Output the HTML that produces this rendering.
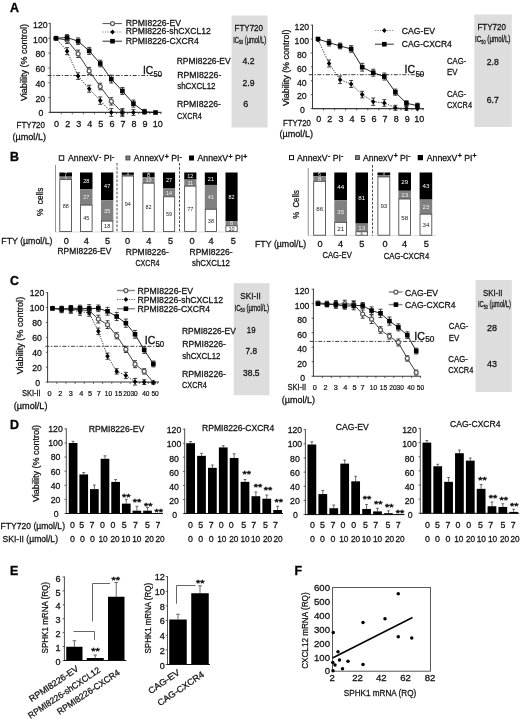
<!DOCTYPE html>
<html lang="en"><head><meta charset="utf-8"><title>Figure</title>
<style>
html,body{margin:0;padding:0;background:#fff;}
body{width:520px;height:720px;overflow:hidden;}
svg text{stroke:#111;stroke-width:0.03em;}
svg{display:block;filter:blur(0.4px);font-family:"Liberation Sans",sans-serif;}
</style></head><body>
<svg width="520" height="720" viewBox="0 0 520 720">
<rect width="520" height="720" fill="#fff"/>
<g fill="#111" class="t">
<text x="10" y="12" font-size="12.4" font-weight="700" fill="#000">A</text>
<text x="10" y="160.5" font-size="12.4" font-weight="700" fill="#000">B</text>
<text x="10" y="285.3" font-size="12.4" font-weight="700" fill="#000">C</text>
<text x="10" y="429.3" font-size="12.4" font-weight="700" fill="#000">D</text>
<text x="10" y="574.5" font-size="12.4" font-weight="700" fill="#000">E</text>
<text x="294.5" y="575" font-size="12.4" font-weight="700" fill="#000">F</text>
<rect x="231.5" y="15.5" width="36" height="112" fill="#dddddd"/>
<text x="234.5" y="30.65" font-size="8.8" textLength="28.5" lengthAdjust="spacingAndGlyphs">FTY720</text>
<text transform="translate(233.2 42.58) scale(0.68 1)" font-size="8.6">IC<tspan font-size="5.33" dy="1.3">50</tspan><tspan dy="-1.3"> (µmol/L)</tspan></text>
<line x1="47.7" y1="75.5" x2="161.5" y2="75.5" stroke="#1a1a1a" stroke-width="0.85" stroke-dasharray="4 1.6 1.3 1.6"/>
<line x1="50.2" y1="22.92" x2="50.2" y2="112.9" stroke="#3a3a3a" stroke-width="1"/>
<line x1="49.7" y1="112.4" x2="161.5" y2="112.4" stroke="#3a3a3a" stroke-width="1.1"/>
<line x1="48.4" y1="112.4" x2="50.2" y2="112.4" stroke="#3a3a3a" stroke-width="0.8"/>
<text x="40.9" y="116.31" font-size="8.7" text-anchor="middle">0</text>
<line x1="48.4" y1="97.57" x2="50.2" y2="97.57" stroke="#3a3a3a" stroke-width="0.8"/>
<text x="40.3" y="101.56" font-size="8.7" text-anchor="middle">20</text>
<line x1="48.4" y1="82.74" x2="50.2" y2="82.74" stroke="#3a3a3a" stroke-width="0.8"/>
<text x="40.3" y="86.81" font-size="8.7" text-anchor="middle">40</text>
<line x1="48.4" y1="67.91" x2="50.2" y2="67.91" stroke="#3a3a3a" stroke-width="0.8"/>
<text x="40.3" y="72.06" font-size="8.7" text-anchor="middle">60</text>
<line x1="48.4" y1="53.08" x2="50.2" y2="53.08" stroke="#3a3a3a" stroke-width="0.8"/>
<text x="40.3" y="57.31" font-size="8.7" text-anchor="middle">80</text>
<line x1="48.4" y1="38.25" x2="50.2" y2="38.25" stroke="#3a3a3a" stroke-width="0.8"/>
<text x="40.3" y="42.56" font-size="8.7" text-anchor="middle">100</text>
<line x1="48.4" y1="23.42" x2="50.2" y2="23.42" stroke="#3a3a3a" stroke-width="0.8"/>
<text x="40.3" y="27.81" font-size="8.7" text-anchor="middle">120</text>
<line x1="61.26" y1="112.4" x2="61.26" y2="114.2" stroke="#3a3a3a" stroke-width="0.8"/>
<line x1="72.32" y1="112.4" x2="72.32" y2="114.2" stroke="#3a3a3a" stroke-width="0.8"/>
<line x1="83.38" y1="112.4" x2="83.38" y2="114.2" stroke="#3a3a3a" stroke-width="0.8"/>
<line x1="94.44" y1="112.4" x2="94.44" y2="114.2" stroke="#3a3a3a" stroke-width="0.8"/>
<line x1="105.5" y1="112.4" x2="105.5" y2="114.2" stroke="#3a3a3a" stroke-width="0.8"/>
<line x1="116.56" y1="112.4" x2="116.56" y2="114.2" stroke="#3a3a3a" stroke-width="0.8"/>
<line x1="127.62" y1="112.4" x2="127.62" y2="114.2" stroke="#3a3a3a" stroke-width="0.8"/>
<line x1="138.68" y1="112.4" x2="138.68" y2="114.2" stroke="#3a3a3a" stroke-width="0.8"/>
<line x1="149.74" y1="112.4" x2="149.74" y2="114.2" stroke="#3a3a3a" stroke-width="0.8"/>
<line x1="160.8" y1="112.4" x2="160.8" y2="114.2" stroke="#3a3a3a" stroke-width="0.8"/>
<polyline points="56,38.25 67.06,40.11 78.12,53.84 89.18,70.92 100.24,86.51 111.3,101.36 122.36,112.5" fill="none" stroke="#2a2a2a" stroke-width="0.9" stroke-linejoin="round"/>
<polyline points="56,38.25 67.06,51.17 78.12,76.12 89.18,88.74 100.24,100.62 111.3,112.5 122.36,112.5 133.42,112.5" fill="none" stroke="#333" stroke-width="0.9" stroke-linejoin="round" stroke-dasharray="1.4 1.2"/>
<polyline points="56,38.25 67.06,37.51 78.12,41.22 89.18,50.87 100.24,63.5 111.3,79.09 122.36,90.97 133.42,103.59 144.48,111.76 155.54,112.5" fill="none" stroke="#1a1a1a" stroke-width="0.95" stroke-linejoin="round"/>
<line x1="67.06" y1="36.81" x2="67.06" y2="43.41" stroke="#111" stroke-width="0.8"/>
<line x1="65.06" y1="36.81" x2="69.06" y2="36.81" stroke="#111" stroke-width="0.8"/>
<line x1="65.06" y1="43.41" x2="69.06" y2="43.41" stroke="#111" stroke-width="0.8"/>
<line x1="78.12" y1="50.14" x2="78.12" y2="57.54" stroke="#111" stroke-width="0.8"/>
<line x1="76.12" y1="50.14" x2="80.12" y2="50.14" stroke="#111" stroke-width="0.8"/>
<line x1="76.12" y1="57.54" x2="80.12" y2="57.54" stroke="#111" stroke-width="0.8"/>
<line x1="89.18" y1="67.42" x2="89.18" y2="74.42" stroke="#111" stroke-width="0.8"/>
<line x1="87.18" y1="67.42" x2="91.18" y2="67.42" stroke="#111" stroke-width="0.8"/>
<line x1="87.18" y1="74.42" x2="91.18" y2="74.42" stroke="#111" stroke-width="0.8"/>
<line x1="100.24" y1="83.21" x2="100.24" y2="89.81" stroke="#111" stroke-width="0.8"/>
<line x1="98.24" y1="83.21" x2="102.24" y2="83.21" stroke="#111" stroke-width="0.8"/>
<line x1="98.24" y1="89.81" x2="102.24" y2="89.81" stroke="#111" stroke-width="0.8"/>
<line x1="111.3" y1="97.66" x2="111.3" y2="105.06" stroke="#111" stroke-width="0.8"/>
<line x1="109.3" y1="97.66" x2="113.3" y2="97.66" stroke="#111" stroke-width="0.8"/>
<line x1="109.3" y1="105.06" x2="113.3" y2="105.06" stroke="#111" stroke-width="0.8"/>
<line x1="122.36" y1="109" x2="122.36" y2="116" stroke="#111" stroke-width="0.8"/>
<line x1="120.36" y1="109" x2="124.36" y2="109" stroke="#111" stroke-width="0.8"/>
<line x1="120.36" y1="116" x2="124.36" y2="116" stroke="#111" stroke-width="0.8"/>
<circle cx="56" cy="38.25" r="2" fill="#fff" stroke="#5c5c5c" stroke-width="1.25"/>
<circle cx="67.06" cy="40.11" r="2" fill="#fff" stroke="#5c5c5c" stroke-width="1.25"/>
<circle cx="78.12" cy="53.84" r="2" fill="#fff" stroke="#5c5c5c" stroke-width="1.25"/>
<circle cx="89.18" cy="70.92" r="2" fill="#fff" stroke="#5c5c5c" stroke-width="1.25"/>
<circle cx="100.24" cy="86.51" r="2" fill="#fff" stroke="#5c5c5c" stroke-width="1.25"/>
<circle cx="111.3" cy="101.36" r="2" fill="#fff" stroke="#5c5c5c" stroke-width="1.25"/>
<circle cx="122.36" cy="112.5" r="2" fill="#fff" stroke="#5c5c5c" stroke-width="1.25"/>
<line x1="67.06" y1="47.67" x2="67.06" y2="54.67" stroke="#111" stroke-width="0.8"/>
<line x1="65.06" y1="47.67" x2="69.06" y2="47.67" stroke="#111" stroke-width="0.8"/>
<line x1="65.06" y1="54.67" x2="69.06" y2="54.67" stroke="#111" stroke-width="0.8"/>
<line x1="78.12" y1="72.82" x2="78.12" y2="79.42" stroke="#111" stroke-width="0.8"/>
<line x1="76.12" y1="72.82" x2="80.12" y2="72.82" stroke="#111" stroke-width="0.8"/>
<line x1="76.12" y1="79.42" x2="80.12" y2="79.42" stroke="#111" stroke-width="0.8"/>
<line x1="89.18" y1="85.24" x2="89.18" y2="92.24" stroke="#111" stroke-width="0.8"/>
<line x1="87.18" y1="85.24" x2="91.18" y2="85.24" stroke="#111" stroke-width="0.8"/>
<line x1="87.18" y1="92.24" x2="91.18" y2="92.24" stroke="#111" stroke-width="0.8"/>
<line x1="100.24" y1="96.92" x2="100.24" y2="104.32" stroke="#111" stroke-width="0.8"/>
<line x1="98.24" y1="96.92" x2="102.24" y2="96.92" stroke="#111" stroke-width="0.8"/>
<line x1="98.24" y1="104.32" x2="102.24" y2="104.32" stroke="#111" stroke-width="0.8"/>
<line x1="111.3" y1="108.6" x2="111.3" y2="116.4" stroke="#111" stroke-width="0.8"/>
<line x1="109.3" y1="108.6" x2="113.3" y2="108.6" stroke="#111" stroke-width="0.8"/>
<line x1="109.3" y1="116.4" x2="113.3" y2="116.4" stroke="#111" stroke-width="0.8"/>
<line x1="122.36" y1="108.8" x2="122.36" y2="116.2" stroke="#111" stroke-width="0.8"/>
<line x1="120.36" y1="108.8" x2="124.36" y2="108.8" stroke="#111" stroke-width="0.8"/>
<line x1="120.36" y1="116.2" x2="124.36" y2="116.2" stroke="#111" stroke-width="0.8"/>
<line x1="133.42" y1="109.6" x2="133.42" y2="115.4" stroke="#111" stroke-width="0.8"/>
<line x1="131.42" y1="109.6" x2="135.42" y2="109.6" stroke="#111" stroke-width="0.8"/>
<line x1="131.42" y1="115.4" x2="135.42" y2="115.4" stroke="#111" stroke-width="0.8"/>
<path d="M56 35.7L58.3 38.25L56 40.8L53.7 38.25z" fill="#000"/>
<path d="M67.06 48.62L69.36 51.17L67.06 53.72L64.77 51.17z" fill="#000"/>
<path d="M78.12 73.57L80.42 76.12L78.12 78.67L75.83 76.12z" fill="#000"/>
<path d="M89.18 86.19L91.48 88.74L89.18 91.29L86.89 88.74z" fill="#000"/>
<path d="M100.24 98.07L102.54 100.62L100.24 103.17L97.95 100.62z" fill="#000"/>
<path d="M111.3 109.95L113.6 112.5L111.3 115.05L109.01 112.5z" fill="#000"/>
<path d="M122.36 109.95L124.66 112.5L122.36 115.05L120.06 112.5z" fill="#000"/>
<path d="M133.42 109.95L135.72 112.5L133.42 115.05L131.13 112.5z" fill="#000"/>
<line x1="67.06" y1="34.61" x2="67.06" y2="40.41" stroke="#111" stroke-width="0.8"/>
<line x1="65.06" y1="34.61" x2="69.06" y2="34.61" stroke="#111" stroke-width="0.8"/>
<line x1="65.06" y1="40.41" x2="69.06" y2="40.41" stroke="#111" stroke-width="0.8"/>
<line x1="78.12" y1="37.92" x2="78.12" y2="44.52" stroke="#111" stroke-width="0.8"/>
<line x1="76.12" y1="37.92" x2="80.12" y2="37.92" stroke="#111" stroke-width="0.8"/>
<line x1="76.12" y1="44.52" x2="80.12" y2="44.52" stroke="#111" stroke-width="0.8"/>
<line x1="89.18" y1="47.37" x2="89.18" y2="54.37" stroke="#111" stroke-width="0.8"/>
<line x1="87.18" y1="47.37" x2="91.18" y2="47.37" stroke="#111" stroke-width="0.8"/>
<line x1="87.18" y1="54.37" x2="91.18" y2="54.37" stroke="#111" stroke-width="0.8"/>
<line x1="100.24" y1="60.2" x2="100.24" y2="66.8" stroke="#111" stroke-width="0.8"/>
<line x1="98.24" y1="60.2" x2="102.24" y2="60.2" stroke="#111" stroke-width="0.8"/>
<line x1="98.24" y1="66.8" x2="102.24" y2="66.8" stroke="#111" stroke-width="0.8"/>
<line x1="111.3" y1="75.19" x2="111.3" y2="82.99" stroke="#111" stroke-width="0.8"/>
<line x1="109.3" y1="75.19" x2="113.3" y2="75.19" stroke="#111" stroke-width="0.8"/>
<line x1="109.3" y1="82.99" x2="113.3" y2="82.99" stroke="#111" stroke-width="0.8"/>
<line x1="122.36" y1="87.47" x2="122.36" y2="94.47" stroke="#111" stroke-width="0.8"/>
<line x1="120.36" y1="87.47" x2="124.36" y2="87.47" stroke="#111" stroke-width="0.8"/>
<line x1="120.36" y1="94.47" x2="124.36" y2="94.47" stroke="#111" stroke-width="0.8"/>
<line x1="133.42" y1="100.09" x2="133.42" y2="107.09" stroke="#111" stroke-width="0.8"/>
<line x1="131.42" y1="100.09" x2="135.42" y2="100.09" stroke="#111" stroke-width="0.8"/>
<line x1="131.42" y1="107.09" x2="135.42" y2="107.09" stroke="#111" stroke-width="0.8"/>
<line x1="144.48" y1="109.36" x2="144.48" y2="114.16" stroke="#111" stroke-width="0.8"/>
<line x1="142.48" y1="109.36" x2="146.48" y2="109.36" stroke="#111" stroke-width="0.8"/>
<line x1="142.48" y1="114.16" x2="146.48" y2="114.16" stroke="#111" stroke-width="0.8"/>
<rect x="53.7" y="35.95" width="4.6" height="4.6" fill="#000"/>
<rect x="64.76" y="35.21" width="4.6" height="4.6" fill="#000"/>
<rect x="75.82" y="38.92" width="4.6" height="4.6" fill="#000"/>
<rect x="86.88" y="48.57" width="4.6" height="4.6" fill="#000"/>
<rect x="97.94" y="61.2" width="4.6" height="4.6" fill="#000"/>
<rect x="109" y="76.79" width="4.6" height="4.6" fill="#000"/>
<rect x="120.06" y="88.67" width="4.6" height="4.6" fill="#000"/>
<rect x="131.12" y="101.29" width="4.6" height="4.6" fill="#000"/>
<rect x="142.18" y="109.46" width="4.6" height="4.6" fill="#000"/>
<rect x="153.24" y="110.2" width="4.6" height="4.6" fill="#000"/>
<text x="56.6" y="126.52" font-size="9" text-anchor="middle">0</text>
<text x="67.66" y="126.52" font-size="9" text-anchor="middle">2</text>
<text x="78.72" y="126.52" font-size="9" text-anchor="middle">3</text>
<text x="89.78" y="126.52" font-size="9" text-anchor="middle">4</text>
<text x="100.84" y="126.52" font-size="9" text-anchor="middle">5</text>
<text x="111.9" y="126.52" font-size="9" text-anchor="middle">6</text>
<text x="122.96" y="126.52" font-size="9" text-anchor="middle">7</text>
<text x="134.02" y="126.52" font-size="9" text-anchor="middle">8</text>
<text x="145.08" y="126.52" font-size="9" text-anchor="middle">9</text>
<text x="157.64" y="126.52" font-size="9" text-anchor="middle">10</text>
<text x="16.6" y="127.95" font-size="8.8" textLength="28.4" lengthAdjust="spacingAndGlyphs">FTY720</text>
<text x="12.5" y="140.35" font-size="8.8" textLength="33.5" lengthAdjust="spacingAndGlyphs">(µmol/L)</text>
<text x="24.2" y="65.65" font-size="8.8" text-anchor="middle" textLength="77" lengthAdjust="spacingAndGlyphs" transform="rotate(-90 24.2 62.5)">Viability (% control)</text>
<line x1="102.5" y1="23.6" x2="122" y2="23.6" stroke="#3a3a3a" stroke-width="0.9"/>
<circle cx="112.5" cy="23.6" r="2" fill="#fff" stroke="#5c5c5c" stroke-width="1.25"/>
<text x="125.8" y="26.31" font-size="8.7" textLength="55.2" lengthAdjust="spacingAndGlyphs">RPMI8226-EV</text>
<line x1="102.5" y1="32" x2="122" y2="32" stroke="#8e8e8e" stroke-width="1.2" stroke-dasharray="1.3 1.1"/>
<path d="M112.5 29.45L114.8 32L112.5 34.55L110.2 32z" fill="#000"/>
<text x="125.8" y="34.41" font-size="8.7" textLength="85" lengthAdjust="spacingAndGlyphs">RPMI8226-shCXCL12</text>
<line x1="102.5" y1="41.2" x2="122" y2="41.2" stroke="#222" stroke-width="0.95"/>
<rect x="110.2" y="38.9" width="4.6" height="4.6" fill="#000"/>
<text x="125.8" y="43.91" font-size="8.7" textLength="73" lengthAdjust="spacingAndGlyphs">RPMI8226-CXCR4</text>
<text x="143" y="74.12" font-size="11.5" textLength="10.3" lengthAdjust="spacingAndGlyphs">IC</text>
<text x="153.5" y="77.14" font-size="8.2" textLength="8.5" lengthAdjust="spacingAndGlyphs">50</text>
<text x="176.8" y="63.9" font-size="8.8" textLength="53.7" lengthAdjust="spacingAndGlyphs">RPMI8226-EV</text>
<text x="177.2" y="78.15" font-size="8.8" textLength="44.1" lengthAdjust="spacingAndGlyphs">RPMI8226-</text>
<text x="177.2" y="89.45" font-size="8.8" textLength="38.3" lengthAdjust="spacingAndGlyphs">shCXCL12</text>
<text x="177" y="106.9" font-size="8.8" textLength="44" lengthAdjust="spacingAndGlyphs">RPMI8226-</text>
<text x="177" y="118.65" font-size="8.8" textLength="24.8" lengthAdjust="spacingAndGlyphs">CXCR4</text>
<text x="242.5" y="64.22" font-size="9" textLength="12" lengthAdjust="spacingAndGlyphs">4.2</text>
<text x="242.5" y="86.22" font-size="9" textLength="12" lengthAdjust="spacingAndGlyphs">2.9</text>
<text x="243.2" y="107.22" font-size="9">6</text>
<rect x="474.3" y="14.5" width="37.5" height="112.5" fill="#dddddd"/>
<text x="477.4" y="30.15" font-size="8.8" textLength="28.6" lengthAdjust="spacingAndGlyphs">FTY720</text>
<text transform="translate(475 42.38) scale(0.73 1)" font-size="8.6">IC<tspan font-size="5.33" dy="1.3">50</tspan><tspan dy="-1.3"> (µmol/L)</tspan></text>
<line x1="308.8" y1="74.7" x2="424" y2="74.7" stroke="#1a1a1a" stroke-width="0.85" stroke-dasharray="4 1.6 1.3 1.6"/>
<line x1="312.5" y1="24.7" x2="312.5" y2="109.1" stroke="#3a3a3a" stroke-width="1"/>
<line x1="312" y1="108.6" x2="424" y2="108.6" stroke="#3a3a3a" stroke-width="1.1"/>
<line x1="310.7" y1="108.6" x2="312.5" y2="108.6" stroke="#3a3a3a" stroke-width="0.8"/>
<text x="302.4" y="113.23" font-size="8.7" text-anchor="middle">0</text>
<line x1="310.7" y1="94.7" x2="312.5" y2="94.7" stroke="#3a3a3a" stroke-width="0.8"/>
<text x="301.8" y="99.41" font-size="8.7" text-anchor="middle">20</text>
<line x1="310.7" y1="80.8" x2="312.5" y2="80.8" stroke="#3a3a3a" stroke-width="0.8"/>
<text x="301.8" y="85.59" font-size="8.7" text-anchor="middle">40</text>
<line x1="310.7" y1="66.9" x2="312.5" y2="66.9" stroke="#3a3a3a" stroke-width="0.8"/>
<text x="301.8" y="71.77" font-size="8.7" text-anchor="middle">60</text>
<line x1="310.7" y1="53" x2="312.5" y2="53" stroke="#3a3a3a" stroke-width="0.8"/>
<text x="301.8" y="57.95" font-size="8.7" text-anchor="middle">80</text>
<line x1="310.7" y1="39.1" x2="312.5" y2="39.1" stroke="#3a3a3a" stroke-width="0.8"/>
<text x="301.8" y="44.13" font-size="8.7" text-anchor="middle">100</text>
<line x1="310.7" y1="25.2" x2="312.5" y2="25.2" stroke="#3a3a3a" stroke-width="0.8"/>
<text x="301.8" y="30.31" font-size="8.7" text-anchor="middle">120</text>
<line x1="323.55" y1="108.6" x2="323.55" y2="110.4" stroke="#3a3a3a" stroke-width="0.8"/>
<line x1="334.6" y1="108.6" x2="334.6" y2="110.4" stroke="#3a3a3a" stroke-width="0.8"/>
<line x1="345.65" y1="108.6" x2="345.65" y2="110.4" stroke="#3a3a3a" stroke-width="0.8"/>
<line x1="356.7" y1="108.6" x2="356.7" y2="110.4" stroke="#3a3a3a" stroke-width="0.8"/>
<line x1="367.75" y1="108.6" x2="367.75" y2="110.4" stroke="#3a3a3a" stroke-width="0.8"/>
<line x1="378.8" y1="108.6" x2="378.8" y2="110.4" stroke="#3a3a3a" stroke-width="0.8"/>
<line x1="389.85" y1="108.6" x2="389.85" y2="110.4" stroke="#3a3a3a" stroke-width="0.8"/>
<line x1="400.9" y1="108.6" x2="400.9" y2="110.4" stroke="#3a3a3a" stroke-width="0.8"/>
<line x1="411.95" y1="108.6" x2="411.95" y2="110.4" stroke="#3a3a3a" stroke-width="0.8"/>
<line x1="423" y1="108.6" x2="423" y2="110.4" stroke="#3a3a3a" stroke-width="0.8"/>
<polyline points="318,39.7 329.05,63.47 340.1,79.73 351.15,83.97 362.2,94.61 373.25,101.69 384.3,102.95 395.35,107.81 406.4,108.51 417.45,108.85" fill="none" stroke="#333" stroke-width="0.9" stroke-linejoin="round" stroke-dasharray="1.4 1.2"/>
<polyline points="318,39 329.05,42.69 340.1,45.95 351.15,48.94 362.2,67.22 373.25,72.71 384.3,76.53 395.35,92.17 406.4,103.22 417.45,105.73" fill="none" stroke="#1a1a1a" stroke-width="0.95" stroke-linejoin="round"/>
<line x1="329.05" y1="59.97" x2="329.05" y2="66.97" stroke="#111" stroke-width="0.8"/>
<line x1="327.05" y1="59.97" x2="331.05" y2="59.97" stroke="#111" stroke-width="0.8"/>
<line x1="327.05" y1="66.97" x2="331.05" y2="66.97" stroke="#111" stroke-width="0.8"/>
<line x1="340.1" y1="76.03" x2="340.1" y2="83.43" stroke="#111" stroke-width="0.8"/>
<line x1="338.1" y1="76.03" x2="342.1" y2="76.03" stroke="#111" stroke-width="0.8"/>
<line x1="338.1" y1="83.43" x2="342.1" y2="83.43" stroke="#111" stroke-width="0.8"/>
<line x1="351.15" y1="80.47" x2="351.15" y2="87.47" stroke="#111" stroke-width="0.8"/>
<line x1="349.15" y1="80.47" x2="353.15" y2="80.47" stroke="#111" stroke-width="0.8"/>
<line x1="349.15" y1="87.47" x2="353.15" y2="87.47" stroke="#111" stroke-width="0.8"/>
<line x1="362.2" y1="91.31" x2="362.2" y2="97.91" stroke="#111" stroke-width="0.8"/>
<line x1="360.2" y1="91.31" x2="364.2" y2="91.31" stroke="#111" stroke-width="0.8"/>
<line x1="360.2" y1="97.91" x2="364.2" y2="97.91" stroke="#111" stroke-width="0.8"/>
<line x1="373.25" y1="97.99" x2="373.25" y2="105.39" stroke="#111" stroke-width="0.8"/>
<line x1="371.25" y1="97.99" x2="375.25" y2="97.99" stroke="#111" stroke-width="0.8"/>
<line x1="371.25" y1="105.39" x2="375.25" y2="105.39" stroke="#111" stroke-width="0.8"/>
<line x1="384.3" y1="99.65" x2="384.3" y2="106.25" stroke="#111" stroke-width="0.8"/>
<line x1="382.3" y1="99.65" x2="386.3" y2="99.65" stroke="#111" stroke-width="0.8"/>
<line x1="382.3" y1="106.25" x2="386.3" y2="106.25" stroke="#111" stroke-width="0.8"/>
<line x1="395.35" y1="105.31" x2="395.35" y2="110.31" stroke="#111" stroke-width="0.8"/>
<line x1="393.35" y1="105.31" x2="397.35" y2="105.31" stroke="#111" stroke-width="0.8"/>
<line x1="393.35" y1="110.31" x2="397.35" y2="110.31" stroke="#111" stroke-width="0.8"/>
<line x1="406.4" y1="106.61" x2="406.4" y2="110.41" stroke="#111" stroke-width="0.8"/>
<line x1="404.4" y1="106.61" x2="408.4" y2="106.61" stroke="#111" stroke-width="0.8"/>
<line x1="404.4" y1="110.41" x2="408.4" y2="110.41" stroke="#111" stroke-width="0.8"/>
<path d="M318 37.15L320.3 39.7L318 42.25L315.7 39.7z" fill="#000"/>
<path d="M329.05 60.92L331.35 63.47L329.05 66.02L326.75 63.47z" fill="#000"/>
<path d="M340.1 77.18L342.4 79.73L340.1 82.28L337.81 79.73z" fill="#000"/>
<path d="M351.15 81.42L353.44 83.97L351.15 86.52L348.85 83.97z" fill="#000"/>
<path d="M362.2 92.06L364.5 94.61L362.2 97.16L359.9 94.61z" fill="#000"/>
<path d="M373.25 99.14L375.55 101.69L373.25 104.24L370.95 101.69z" fill="#000"/>
<path d="M384.3 100.4L386.6 102.95L384.3 105.5L382 102.95z" fill="#000"/>
<path d="M395.35 105.26L397.65 107.81L395.35 110.36L393.06 107.81z" fill="#000"/>
<path d="M406.4 105.96L408.69 108.51L406.4 111.06L404.1 108.51z" fill="#000"/>
<path d="M417.45 106.3L419.75 108.85L417.45 111.4L415.15 108.85z" fill="#000"/>
<line x1="329.05" y1="39.39" x2="329.05" y2="45.99" stroke="#111" stroke-width="0.8"/>
<line x1="327.05" y1="39.39" x2="331.05" y2="39.39" stroke="#111" stroke-width="0.8"/>
<line x1="327.05" y1="45.99" x2="331.05" y2="45.99" stroke="#111" stroke-width="0.8"/>
<line x1="340.1" y1="43.05" x2="340.1" y2="48.85" stroke="#111" stroke-width="0.8"/>
<line x1="338.1" y1="43.05" x2="342.1" y2="43.05" stroke="#111" stroke-width="0.8"/>
<line x1="338.1" y1="48.85" x2="342.1" y2="48.85" stroke="#111" stroke-width="0.8"/>
<line x1="351.15" y1="45.64" x2="351.15" y2="52.24" stroke="#111" stroke-width="0.8"/>
<line x1="349.15" y1="45.64" x2="353.15" y2="45.64" stroke="#111" stroke-width="0.8"/>
<line x1="349.15" y1="52.24" x2="353.15" y2="52.24" stroke="#111" stroke-width="0.8"/>
<line x1="362.2" y1="63.32" x2="362.2" y2="71.12" stroke="#111" stroke-width="0.8"/>
<line x1="360.2" y1="63.32" x2="364.2" y2="63.32" stroke="#111" stroke-width="0.8"/>
<line x1="360.2" y1="71.12" x2="364.2" y2="71.12" stroke="#111" stroke-width="0.8"/>
<line x1="373.25" y1="69.21" x2="373.25" y2="76.21" stroke="#111" stroke-width="0.8"/>
<line x1="371.25" y1="69.21" x2="375.25" y2="69.21" stroke="#111" stroke-width="0.8"/>
<line x1="371.25" y1="76.21" x2="375.25" y2="76.21" stroke="#111" stroke-width="0.8"/>
<line x1="384.3" y1="73.03" x2="384.3" y2="80.03" stroke="#111" stroke-width="0.8"/>
<line x1="382.3" y1="73.03" x2="386.3" y2="73.03" stroke="#111" stroke-width="0.8"/>
<line x1="382.3" y1="80.03" x2="386.3" y2="80.03" stroke="#111" stroke-width="0.8"/>
<line x1="395.35" y1="89.07" x2="395.35" y2="95.27" stroke="#111" stroke-width="0.8"/>
<line x1="393.35" y1="89.07" x2="397.35" y2="89.07" stroke="#111" stroke-width="0.8"/>
<line x1="393.35" y1="95.27" x2="397.35" y2="95.27" stroke="#111" stroke-width="0.8"/>
<line x1="406.4" y1="100.72" x2="406.4" y2="105.72" stroke="#111" stroke-width="0.8"/>
<line x1="404.4" y1="100.72" x2="408.4" y2="100.72" stroke="#111" stroke-width="0.8"/>
<line x1="404.4" y1="105.72" x2="408.4" y2="105.72" stroke="#111" stroke-width="0.8"/>
<line x1="417.45" y1="103.23" x2="417.45" y2="108.23" stroke="#111" stroke-width="0.8"/>
<line x1="415.45" y1="103.23" x2="419.45" y2="103.23" stroke="#111" stroke-width="0.8"/>
<line x1="415.45" y1="108.23" x2="419.45" y2="108.23" stroke="#111" stroke-width="0.8"/>
<rect x="315.7" y="36.7" width="4.6" height="4.6" fill="#000"/>
<rect x="326.75" y="40.39" width="4.6" height="4.6" fill="#000"/>
<rect x="337.8" y="43.66" width="4.6" height="4.6" fill="#000"/>
<rect x="348.85" y="46.64" width="4.6" height="4.6" fill="#000"/>
<rect x="359.9" y="64.92" width="4.6" height="4.6" fill="#000"/>
<rect x="370.95" y="70.41" width="4.6" height="4.6" fill="#000"/>
<rect x="382" y="74.23" width="4.6" height="4.6" fill="#000"/>
<rect x="393.05" y="89.87" width="4.6" height="4.6" fill="#000"/>
<rect x="404.1" y="100.92" width="4.6" height="4.6" fill="#000"/>
<rect x="415.15" y="103.43" width="4.6" height="4.6" fill="#000"/>
<text x="318.8" y="122.42" font-size="9" text-anchor="middle">0</text>
<text x="329.85" y="122.42" font-size="9" text-anchor="middle">2</text>
<text x="340.9" y="122.42" font-size="9" text-anchor="middle">3</text>
<text x="351.95" y="122.42" font-size="9" text-anchor="middle">4</text>
<text x="363" y="122.42" font-size="9" text-anchor="middle">5</text>
<text x="374.05" y="122.42" font-size="9" text-anchor="middle">6</text>
<text x="385.1" y="122.42" font-size="9" text-anchor="middle">7</text>
<text x="396.15" y="122.42" font-size="9" text-anchor="middle">8</text>
<text x="407.2" y="122.42" font-size="9" text-anchor="middle">9</text>
<text x="419.25" y="122.42" font-size="9" text-anchor="middle">10</text>
<text x="283" y="125.65" font-size="8.8" textLength="28" lengthAdjust="spacingAndGlyphs">FTY720</text>
<text x="279.5" y="137.35" font-size="8.8" textLength="33.5" lengthAdjust="spacingAndGlyphs">(µmol/L)</text>
<text x="286" y="70.95" font-size="8.8" text-anchor="middle" textLength="76.5" lengthAdjust="spacingAndGlyphs" transform="rotate(-90 286 67.8)">Viability (% control)</text>
<line x1="375" y1="30.5" x2="393.8" y2="30.5" stroke="#8e8e8e" stroke-width="1.2" stroke-dasharray="1.3 1.1"/>
<path d="M384.3 27.95L386.6 30.5L384.3 33.05L382 30.5z" fill="#000"/>
<text x="401.8" y="33.61" font-size="8.7" textLength="33.2" lengthAdjust="spacingAndGlyphs">CAG-EV</text>
<line x1="375" y1="44.2" x2="393.8" y2="44.2" stroke="#222" stroke-width="0.95"/>
<rect x="382" y="41.9" width="4.6" height="4.6" fill="#000"/>
<text x="401.8" y="47.31" font-size="8.7" textLength="50" lengthAdjust="spacingAndGlyphs">CAG-CXCR4</text>
<text x="404.6" y="73.32" font-size="11.5" textLength="10.6" lengthAdjust="spacingAndGlyphs">IC</text>
<text x="415.4" y="76.94" font-size="8.2" textLength="8.9" lengthAdjust="spacingAndGlyphs">50</text>
<text x="447" y="63.9" font-size="8.8" textLength="19.3" lengthAdjust="spacingAndGlyphs">CAG-</text>
<text x="447" y="75.15" font-size="8.8" textLength="10.5" lengthAdjust="spacingAndGlyphs">EV</text>
<text x="447" y="96.9" font-size="8.8" textLength="19.3" lengthAdjust="spacingAndGlyphs">CAG-</text>
<text x="447" y="107.65" font-size="8.8" textLength="25" lengthAdjust="spacingAndGlyphs">CXCR4</text>
<text x="486.8" y="64.97" font-size="9" textLength="12" lengthAdjust="spacingAndGlyphs">2.8</text>
<text x="486.8" y="102.72" font-size="9" textLength="12" lengthAdjust="spacingAndGlyphs">6.7</text>
<line x1="55.5" y1="165" x2="55.5" y2="232" stroke="#777" stroke-width="0.8"/>
<line x1="55.5" y1="232" x2="240" y2="232" stroke="#c8c8c8" stroke-width="0.6"/>
<rect x="59.4" y="172.5" width="12.6" height="4.15" fill="#000"/>
<rect x="59.4" y="176.65" width="12.6" height="2.97" fill="#808080"/>
<rect x="59.8" y="179.62" width="11.8" height="51.78" fill="#fff" stroke="#3a3a3a" stroke-width="0.8"/>
<text x="65.7" y="176.43" font-size="5.19" text-anchor="middle" fill="#fff" style="stroke:none">7</text>
<text x="65.7" y="179.46" font-size="3.71" text-anchor="middle" fill="#f0f0f0" style="stroke:none">5</text>
<text x="65.7" y="207.68" font-size="5.5" text-anchor="middle" fill="#1a1a1a" style="stroke:none">88</text>
<rect x="80" y="172.5" width="12.5" height="16.6" fill="#000"/>
<rect x="80" y="189.1" width="12.5" height="16.01" fill="#808080"/>
<rect x="80.4" y="205.12" width="11.7" height="26.29" fill="#fff" stroke="#3a3a3a" stroke-width="0.8"/>
<text x="86.25" y="182.77" font-size="5.5" text-anchor="middle" fill="#fff" style="stroke:none">28</text>
<text x="86.25" y="199.08" font-size="5.5" text-anchor="middle" fill="#f0f0f0" style="stroke:none">27</text>
<text x="86.25" y="220.43" font-size="5.5" text-anchor="middle" fill="#1a1a1a" style="stroke:none">45</text>
<rect x="101" y="172.5" width="12.3" height="27.87" fill="#000"/>
<rect x="101" y="200.37" width="12.3" height="20.76" fill="#808080"/>
<rect x="101.4" y="221.13" width="11.5" height="10.27" fill="#fff" stroke="#3a3a3a" stroke-width="0.8"/>
<text x="107.15" y="188.4" font-size="5.5" text-anchor="middle" fill="#fff" style="stroke:none">47</text>
<text x="107.15" y="212.72" font-size="5.5" text-anchor="middle" fill="#f0f0f0" style="stroke:none">35</text>
<text x="107.15" y="228.43" font-size="5.5" text-anchor="middle" fill="#1a1a1a" style="stroke:none">18</text>
<rect x="121.75" y="172.5" width="12.15" height="2.37" fill="#000"/>
<rect x="121.75" y="174.87" width="12.15" height="1.19" fill="#808080"/>
<rect x="122.15" y="176.06" width="11.35" height="55.34" fill="#fff" stroke="#3a3a3a" stroke-width="0.8"/>
<text x="127.83" y="174.97" font-size="3.6" text-anchor="middle" fill="#fff" style="stroke:none">4</text>
<text x="127.83" y="205.9" font-size="5.5" text-anchor="middle" fill="#1a1a1a" style="stroke:none">94</text>
<rect x="142.5" y="172.5" width="12.1" height="4.74" fill="#000"/>
<rect x="142.5" y="177.24" width="12.1" height="5.93" fill="#808080"/>
<rect x="142.9" y="183.17" width="11.3" height="48.23" fill="#fff" stroke="#3a3a3a" stroke-width="0.8"/>
<text x="148.55" y="176.84" font-size="5.5" text-anchor="middle" fill="#fff" style="stroke:none">8</text>
<text x="148.55" y="182.18" font-size="5.5" text-anchor="middle" fill="#f0f0f0" style="stroke:none">10</text>
<text x="148.55" y="209.46" font-size="5.5" text-anchor="middle" fill="#1a1a1a" style="stroke:none">82</text>
<rect x="163" y="172.5" width="12.1" height="16.01" fill="#000"/>
<rect x="163" y="188.51" width="12.1" height="8.3" fill="#808080"/>
<rect x="163.4" y="196.81" width="11.3" height="34.59" fill="#fff" stroke="#3a3a3a" stroke-width="0.8"/>
<text x="169.05" y="182.47" font-size="5.5" text-anchor="middle" fill="#fff" style="stroke:none">27</text>
<text x="169.05" y="194.63" font-size="5.5" text-anchor="middle" fill="#f0f0f0" style="stroke:none">14</text>
<text x="169.05" y="216.28" font-size="5.5" text-anchor="middle" fill="#1a1a1a" style="stroke:none">59</text>
<rect x="184.25" y="172.5" width="12.15" height="7.12" fill="#000"/>
<rect x="184.25" y="179.62" width="12.15" height="6.52" fill="#808080"/>
<rect x="184.65" y="186.14" width="11.35" height="45.26" fill="#fff" stroke="#3a3a3a" stroke-width="0.8"/>
<text x="190.32" y="178.03" font-size="5.5" text-anchor="middle" fill="#fff" style="stroke:none">12</text>
<text x="190.32" y="184.85" font-size="5.5" text-anchor="middle" fill="#f0f0f0" style="stroke:none">11</text>
<text x="190.32" y="210.94" font-size="5.5" text-anchor="middle" fill="#1a1a1a" style="stroke:none">77</text>
<rect x="204.8" y="172.5" width="12.2" height="12.45" fill="#000"/>
<rect x="204.8" y="184.95" width="12.2" height="24.31" fill="#808080"/>
<rect x="205.2" y="209.27" width="11.4" height="22.13" fill="#fff" stroke="#3a3a3a" stroke-width="0.8"/>
<text x="210.9" y="180.7" font-size="5.5" text-anchor="middle" fill="#fff" style="stroke:none">21</text>
<text x="210.9" y="199.08" font-size="5.5" text-anchor="middle" fill="#f0f0f0" style="stroke:none">41</text>
<text x="210.9" y="222.5" font-size="5.5" text-anchor="middle" fill="#1a1a1a" style="stroke:none">38</text>
<rect x="225.5" y="172.5" width="12.1" height="48.63" fill="#000"/>
<rect x="225.5" y="221.13" width="12.1" height="4.74" fill="#808080"/>
<rect x="225.9" y="225.87" width="11.3" height="5.53" fill="#fff" stroke="#3a3a3a" stroke-width="0.8"/>
<text x="231.55" y="198.78" font-size="5.5" text-anchor="middle" fill="#fff" style="stroke:none">82</text>
<text x="231.55" y="225.47" font-size="5.5" text-anchor="middle" fill="#f0f0f0" style="stroke:none">8</text>
<text x="231.55" y="230.8" font-size="5.5" text-anchor="middle" fill="#1a1a1a" style="stroke:none">10</text>
<line x1="117" y1="163" x2="117" y2="231.5" stroke="#4a4a4a" stroke-width="1" stroke-dasharray="2.6 1.5"/>
<line x1="179.5" y1="163" x2="179.5" y2="231.5" stroke="#4a4a4a" stroke-width="1" stroke-dasharray="2.6 1.5"/>
<rect x="59.25" y="155.75" width="4.5" height="4.5" fill="#fff" stroke="#111" stroke-width="1"/>
<text transform="translate(68 161.15) scale(0.99 1)" font-size="8.8">AnnexV<tspan font-size="7.04" font-weight="700" dx="0.5" dy="-2.6">-</tspan><tspan dy="2.6"> PI</tspan><tspan font-size="7.04" font-weight="700" dy="-2.6">-</tspan></text>
<rect x="125.9" y="156" width="4" height="4" fill="#808080" stroke="#333" stroke-width="0.8"/>
<text transform="translate(133.75 161.15) scale(0.99 1)" font-size="8.8">AnnexV<tspan font-size="7.04" font-weight="700" dx="0.5" dy="-2.6">+</tspan><tspan dy="2.6"> PI</tspan><tspan font-size="7.04" font-weight="700" dy="-2.6">-</tspan></text>
<rect x="189" y="155.5" width="5" height="5" fill="#000"/>
<text transform="translate(197.5 161.15) scale(0.99 1)" font-size="8.8">AnnexV<tspan font-size="7.04" font-weight="700" dx="0.5" dy="-2.6">+</tspan><tspan dy="2.6"> PI</tspan><tspan font-size="7.04" font-weight="700" dy="-2.6">+</tspan></text>
<text x="39.8" y="205.12" font-size="9" text-anchor="middle" textLength="28.3" lengthAdjust="spacingAndGlyphs" transform="rotate(-90 39.8 201.9)" xml:space="preserve">%  cells</text>
<text x="1.3" y="243.82" font-size="9" textLength="51.2" lengthAdjust="spacingAndGlyphs">FTY (µmol/L)</text>
<text x="66.25" y="243.89" font-size="9.2" text-anchor="middle">0</text>
<text x="86.25" y="243.89" font-size="9.2" text-anchor="middle">4</text>
<text x="107.5" y="243.89" font-size="9.2" text-anchor="middle">5</text>
<text x="127.5" y="243.89" font-size="9.2" text-anchor="middle">0</text>
<text x="148.75" y="243.89" font-size="9.2" text-anchor="middle">4</text>
<text x="170.5" y="243.89" font-size="9.2" text-anchor="middle">5</text>
<text x="192" y="243.89" font-size="9.2" text-anchor="middle">0</text>
<text x="211" y="243.89" font-size="9.2" text-anchor="middle">4</text>
<text x="233.25" y="243.89" font-size="9.2" text-anchor="middle">5</text>
<text x="57.5" y="253.82" font-size="9" textLength="53.8" lengthAdjust="spacingAndGlyphs">RPMI8226-EV</text>
<text x="125.8" y="254.52" font-size="9" textLength="43" lengthAdjust="spacingAndGlyphs">RPMI8226-</text>
<text x="135.5" y="266.22" font-size="9" textLength="24" lengthAdjust="spacingAndGlyphs">CXCR4</text>
<text x="189.5" y="254.52" font-size="9" textLength="43" lengthAdjust="spacingAndGlyphs">RPMI8226-</text>
<text x="192" y="266.22" font-size="9" textLength="38" lengthAdjust="spacingAndGlyphs">shCXCL12</text>
<line x1="308.25" y1="168" x2="308.25" y2="235.6" stroke="#777" stroke-width="0.8"/>
<line x1="308.25" y1="235.6" x2="436" y2="235.6" stroke="#c8c8c8" stroke-width="0.6"/>
<rect x="313.3" y="172.5" width="12.7" height="3.79" fill="#000"/>
<rect x="313.3" y="176.29" width="12.7" height="5.05" fill="#808080"/>
<rect x="313.7" y="181.33" width="11.9" height="53.87" fill="#fff" stroke="#3a3a3a" stroke-width="0.8"/>
<text x="319.65" y="176.09" font-size="4.73" text-anchor="middle" fill="#fff" style="stroke:none">6</text>
<text x="319.65" y="181.03" font-size="6.2" text-anchor="middle" fill="#f0f0f0" style="stroke:none">8</text>
<text x="319.65" y="210.69" font-size="6.2" text-anchor="middle" fill="#1a1a1a" style="stroke:none">86</text>
<rect x="334.3" y="172.5" width="12.7" height="27.76" fill="#000"/>
<rect x="334.3" y="200.26" width="12.7" height="22.09" fill="#808080"/>
<rect x="334.7" y="222.35" width="11.9" height="12.85" fill="#fff" stroke="#3a3a3a" stroke-width="0.8"/>
<text x="340.65" y="188.6" font-size="6.2" text-anchor="middle" fill="#fff" style="stroke:none">44</text>
<text x="340.65" y="213.53" font-size="6.2" text-anchor="middle" fill="#f0f0f0" style="stroke:none">35</text>
<text x="340.65" y="231.19" font-size="6.2" text-anchor="middle" fill="#1a1a1a" style="stroke:none">21</text>
<rect x="355.5" y="172.5" width="12.5" height="51.11" fill="#000"/>
<rect x="355.5" y="223.61" width="12.5" height="8.2" fill="#808080"/>
<rect x="355.9" y="231.81" width="11.7" height="3.39" fill="#fff" stroke="#3a3a3a" stroke-width="0.8"/>
<text x="361.75" y="200.28" font-size="6.2" text-anchor="middle" fill="#fff" style="stroke:none">81</text>
<text x="361.75" y="229.93" font-size="6.2" text-anchor="middle" fill="#f0f0f0" style="stroke:none">13</text>
<text x="361.75" y="235.2" font-size="4.16" text-anchor="middle" fill="#1a1a1a" style="stroke:none">6</text>
<rect x="377.5" y="172.5" width="12.7" height="2.52" fill="#000"/>
<rect x="377.5" y="175.02" width="12.7" height="1.89" fill="#808080"/>
<rect x="377.9" y="176.92" width="11.9" height="58.28" fill="#fff" stroke="#3a3a3a" stroke-width="0.8"/>
<text x="383.85" y="175.05" font-size="3.6" text-anchor="middle" fill="#fff" style="stroke:none">4</text>
<text x="383.85" y="208.48" font-size="6.2" text-anchor="middle" fill="#1a1a1a" style="stroke:none">93</text>
<rect x="398.4" y="172.5" width="12.6" height="18.3" fill="#000"/>
<rect x="398.4" y="190.8" width="12.6" height="8.2" fill="#808080"/>
<rect x="398.8" y="199" width="11.8" height="36.2" fill="#fff" stroke="#3a3a3a" stroke-width="0.8"/>
<text x="404.7" y="183.87" font-size="6.2" text-anchor="middle" fill="#fff" style="stroke:none">29</text>
<text x="404.7" y="197.12" font-size="6.2" text-anchor="middle" fill="#f0f0f0" style="stroke:none">13</text>
<text x="404.7" y="219.52" font-size="6.2" text-anchor="middle" fill="#1a1a1a" style="stroke:none">58</text>
<rect x="419.6" y="172.5" width="12.6" height="27.13" fill="#000"/>
<rect x="419.6" y="199.63" width="12.6" height="14.51" fill="#808080"/>
<rect x="420" y="214.15" width="11.8" height="21.05" fill="#fff" stroke="#3a3a3a" stroke-width="0.8"/>
<text x="425.9" y="188.29" font-size="6.2" text-anchor="middle" fill="#fff" style="stroke:none">43</text>
<text x="425.9" y="209.11" font-size="6.2" text-anchor="middle" fill="#f0f0f0" style="stroke:none">23</text>
<text x="425.9" y="227.09" font-size="6.2" text-anchor="middle" fill="#1a1a1a" style="stroke:none">34</text>
<line x1="372.5" y1="165" x2="372.5" y2="235.5" stroke="#4a4a4a" stroke-width="1" stroke-dasharray="2.6 1.5"/>
<rect x="289.5" y="155.6" width="4" height="4" fill="#fff" stroke="#111" stroke-width="1"/>
<text transform="translate(297 160.75) scale(0.99 1)" font-size="8.8">AnnexV<tspan font-size="7.04" font-weight="700" dx="0.5" dy="-2.6">-</tspan><tspan dy="2.6"> PI</tspan><tspan font-size="7.04" font-weight="700" dy="-2.6">-</tspan></text>
<rect x="355.4" y="155.6" width="4" height="4" fill="#808080" stroke="#333" stroke-width="0.8"/>
<text transform="translate(363 160.75) scale(0.98 1)" font-size="8.8">AnnexV<tspan font-size="7.04" font-weight="700" dx="0.5" dy="-2.6">+</tspan><tspan dy="2.6"> PI</tspan><tspan font-size="7.04" font-weight="700" dy="-2.6">-</tspan></text>
<rect x="417.7" y="154.95" width="5.3" height="5.3" fill="#000"/>
<text transform="translate(426.75 160.75) scale(0.99 1)" font-size="8.8">AnnexV<tspan font-size="7.04" font-weight="700" dx="0.5" dy="-2.6">+</tspan><tspan dy="2.6"> PI</tspan><tspan font-size="7.04" font-weight="700" dy="-2.6">+</tspan></text>
<text x="295.8" y="207.72" font-size="9" text-anchor="middle" textLength="28.6" lengthAdjust="spacingAndGlyphs" transform="rotate(-90 295.8 204.5)" xml:space="preserve">%  Cells</text>
<text x="255" y="247.02" font-size="9" textLength="51.3" lengthAdjust="spacingAndGlyphs">FTY (µmol/L)</text>
<text x="320" y="247.09" font-size="9.2" text-anchor="middle">0</text>
<text x="340.5" y="247.09" font-size="9.2" text-anchor="middle">4</text>
<text x="361.75" y="247.09" font-size="9.2" text-anchor="middle">5</text>
<text x="385" y="247.09" font-size="9.2" text-anchor="middle">0</text>
<text x="404.5" y="247.09" font-size="9.2" text-anchor="middle">4</text>
<text x="426.25" y="247.09" font-size="9.2" text-anchor="middle">5</text>
<text x="322.5" y="257.82" font-size="9" textLength="29.3" lengthAdjust="spacingAndGlyphs">CAG-EV</text>
<text x="383.75" y="258.62" font-size="9" textLength="45.45" lengthAdjust="spacingAndGlyphs">CAG-CXCR4</text>
<rect x="233.75" y="283.2" width="35.75" height="112" fill="#dddddd"/>
<text x="240.2" y="298.65" font-size="8.8" textLength="20.6" lengthAdjust="spacingAndGlyphs">SKI-II</text>
<text transform="translate(234.5 310.58) scale(0.71 1)" font-size="8.6">IC<tspan font-size="5.33" dy="1.3">50</tspan><tspan dy="-1.3"> (µmol/L)</tspan></text>
<line x1="45.4" y1="346.3" x2="163.8" y2="346.3" stroke="#1a1a1a" stroke-width="0.85" stroke-dasharray="4 1.6 1.3 1.6"/>
<line x1="47.6" y1="292.15" x2="47.6" y2="382.55" stroke="#3a3a3a" stroke-width="1"/>
<line x1="47.1" y1="382.05" x2="159" y2="382.05" stroke="#3a3a3a" stroke-width="1.1"/>
<line x1="45.8" y1="382.05" x2="47.6" y2="382.05" stroke="#3a3a3a" stroke-width="0.8"/>
<text x="37.6" y="385.51" font-size="8.7" text-anchor="middle">0</text>
<line x1="45.8" y1="367.15" x2="47.6" y2="367.15" stroke="#3a3a3a" stroke-width="0.8"/>
<text x="37" y="370.66" font-size="8.7" text-anchor="middle">20</text>
<line x1="45.8" y1="352.25" x2="47.6" y2="352.25" stroke="#3a3a3a" stroke-width="0.8"/>
<text x="37" y="355.81" font-size="8.7" text-anchor="middle">40</text>
<line x1="45.8" y1="337.35" x2="47.6" y2="337.35" stroke="#3a3a3a" stroke-width="0.8"/>
<text x="37" y="340.96" font-size="8.7" text-anchor="middle">60</text>
<line x1="45.8" y1="322.45" x2="47.6" y2="322.45" stroke="#3a3a3a" stroke-width="0.8"/>
<text x="37" y="326.11" font-size="8.7" text-anchor="middle">80</text>
<line x1="45.8" y1="307.55" x2="47.6" y2="307.55" stroke="#3a3a3a" stroke-width="0.8"/>
<text x="37" y="311.26" font-size="8.7" text-anchor="middle">100</text>
<line x1="45.8" y1="292.65" x2="47.6" y2="292.65" stroke="#3a3a3a" stroke-width="0.8"/>
<text x="37" y="296.41" font-size="8.7" text-anchor="middle">120</text>
<line x1="56.77" y1="382.05" x2="56.77" y2="383.85" stroke="#3a3a3a" stroke-width="0.8"/>
<line x1="65.94" y1="382.05" x2="65.94" y2="383.85" stroke="#3a3a3a" stroke-width="0.8"/>
<line x1="75.11" y1="382.05" x2="75.11" y2="383.85" stroke="#3a3a3a" stroke-width="0.8"/>
<line x1="84.28" y1="382.05" x2="84.28" y2="383.85" stroke="#3a3a3a" stroke-width="0.8"/>
<line x1="93.45" y1="382.05" x2="93.45" y2="383.85" stroke="#3a3a3a" stroke-width="0.8"/>
<line x1="102.62" y1="382.05" x2="102.62" y2="383.85" stroke="#3a3a3a" stroke-width="0.8"/>
<line x1="111.79" y1="382.05" x2="111.79" y2="383.85" stroke="#3a3a3a" stroke-width="0.8"/>
<line x1="120.96" y1="382.05" x2="120.96" y2="383.85" stroke="#3a3a3a" stroke-width="0.8"/>
<line x1="130.13" y1="382.05" x2="130.13" y2="383.85" stroke="#3a3a3a" stroke-width="0.8"/>
<line x1="139.3" y1="382.05" x2="139.3" y2="383.85" stroke="#3a3a3a" stroke-width="0.8"/>
<line x1="148.47" y1="382.05" x2="148.47" y2="383.85" stroke="#3a3a3a" stroke-width="0.8"/>
<line x1="157.64" y1="382.05" x2="157.64" y2="383.85" stroke="#3a3a3a" stroke-width="0.8"/>
<polyline points="52.5,308.33 61.67,309.07 70.84,309.07 80.01,309.82 89.18,310.56 98.35,319.09 107.52,324.65 116.69,335.77 125.86,349.42 135.03,364.18 144.2,371.38 153.37,382.5" fill="none" stroke="#2a2a2a" stroke-width="0.9" stroke-linejoin="round"/>
<polyline points="52.5,308.33 61.67,309.82 70.84,309.82 80.01,311.6 89.18,312.78 98.35,331.32 107.52,356.17 116.69,371.38 125.86,375.45 135.03,381.76 144.2,382.13 153.37,382.5" fill="none" stroke="#333" stroke-width="0.9" stroke-linejoin="round" stroke-dasharray="1.4 1.2"/>
<polyline points="52.5,308.33 61.67,309.07 70.84,308.33 80.01,308.33 89.18,308.56 98.35,308.33 107.52,311.3 116.69,316.49 125.86,323.17 135.03,334.29 144.2,349.87 153.37,363.96" fill="none" stroke="#1a1a1a" stroke-width="0.95" stroke-linejoin="round"/>
<line x1="61.67" y1="306.18" x2="61.67" y2="311.97" stroke="#111" stroke-width="0.8"/>
<line x1="59.67" y1="306.18" x2="63.67" y2="306.18" stroke="#111" stroke-width="0.8"/>
<line x1="59.67" y1="311.97" x2="63.67" y2="311.97" stroke="#111" stroke-width="0.8"/>
<line x1="70.84" y1="305.77" x2="70.84" y2="312.38" stroke="#111" stroke-width="0.8"/>
<line x1="68.84" y1="305.77" x2="72.84" y2="305.77" stroke="#111" stroke-width="0.8"/>
<line x1="68.84" y1="312.38" x2="72.84" y2="312.38" stroke="#111" stroke-width="0.8"/>
<line x1="80.01" y1="306.32" x2="80.01" y2="313.32" stroke="#111" stroke-width="0.8"/>
<line x1="78.01" y1="306.32" x2="82.01" y2="306.32" stroke="#111" stroke-width="0.8"/>
<line x1="78.01" y1="313.32" x2="82.01" y2="313.32" stroke="#111" stroke-width="0.8"/>
<line x1="89.18" y1="306.86" x2="89.18" y2="314.26" stroke="#111" stroke-width="0.8"/>
<line x1="87.18" y1="306.86" x2="91.18" y2="306.86" stroke="#111" stroke-width="0.8"/>
<line x1="87.18" y1="314.26" x2="91.18" y2="314.26" stroke="#111" stroke-width="0.8"/>
<line x1="98.35" y1="315.19" x2="98.35" y2="322.99" stroke="#111" stroke-width="0.8"/>
<line x1="96.35" y1="315.19" x2="100.35" y2="315.19" stroke="#111" stroke-width="0.8"/>
<line x1="96.35" y1="322.99" x2="100.35" y2="322.99" stroke="#111" stroke-width="0.8"/>
<line x1="107.52" y1="320.75" x2="107.52" y2="328.55" stroke="#111" stroke-width="0.8"/>
<line x1="105.52" y1="320.75" x2="109.52" y2="320.75" stroke="#111" stroke-width="0.8"/>
<line x1="105.52" y1="328.55" x2="109.52" y2="328.55" stroke="#111" stroke-width="0.8"/>
<line x1="116.69" y1="332.67" x2="116.69" y2="338.88" stroke="#111" stroke-width="0.8"/>
<line x1="114.69" y1="332.67" x2="118.69" y2="332.67" stroke="#111" stroke-width="0.8"/>
<line x1="114.69" y1="338.88" x2="118.69" y2="338.88" stroke="#111" stroke-width="0.8"/>
<line x1="125.86" y1="346.32" x2="125.86" y2="352.52" stroke="#111" stroke-width="0.8"/>
<line x1="123.86" y1="346.32" x2="127.86" y2="346.32" stroke="#111" stroke-width="0.8"/>
<line x1="123.86" y1="352.52" x2="127.86" y2="352.52" stroke="#111" stroke-width="0.8"/>
<line x1="135.03" y1="360.68" x2="135.03" y2="367.68" stroke="#111" stroke-width="0.8"/>
<line x1="133.03" y1="360.68" x2="137.03" y2="360.68" stroke="#111" stroke-width="0.8"/>
<line x1="133.03" y1="367.68" x2="137.03" y2="367.68" stroke="#111" stroke-width="0.8"/>
<line x1="144.2" y1="368.68" x2="144.2" y2="374.07" stroke="#111" stroke-width="0.8"/>
<line x1="142.2" y1="368.68" x2="146.2" y2="368.68" stroke="#111" stroke-width="0.8"/>
<line x1="142.2" y1="374.07" x2="146.2" y2="374.07" stroke="#111" stroke-width="0.8"/>
<circle cx="52.5" cy="308.33" r="2" fill="#fff" stroke="#5c5c5c" stroke-width="1.25"/>
<circle cx="61.67" cy="309.07" r="2" fill="#fff" stroke="#5c5c5c" stroke-width="1.25"/>
<circle cx="70.84" cy="309.07" r="2" fill="#fff" stroke="#5c5c5c" stroke-width="1.25"/>
<circle cx="80.01" cy="309.82" r="2" fill="#fff" stroke="#5c5c5c" stroke-width="1.25"/>
<circle cx="89.18" cy="310.56" r="2" fill="#fff" stroke="#5c5c5c" stroke-width="1.25"/>
<circle cx="98.35" cy="319.09" r="2" fill="#fff" stroke="#5c5c5c" stroke-width="1.25"/>
<circle cx="107.52" cy="324.65" r="2" fill="#fff" stroke="#5c5c5c" stroke-width="1.25"/>
<circle cx="116.69" cy="335.77" r="2" fill="#fff" stroke="#5c5c5c" stroke-width="1.25"/>
<circle cx="125.86" cy="349.42" r="2" fill="#fff" stroke="#5c5c5c" stroke-width="1.25"/>
<circle cx="135.03" cy="364.18" r="2" fill="#fff" stroke="#5c5c5c" stroke-width="1.25"/>
<circle cx="144.2" cy="371.38" r="2" fill="#fff" stroke="#5c5c5c" stroke-width="1.25"/>
<circle cx="153.37" cy="382.5" r="2" fill="#fff" stroke="#5c5c5c" stroke-width="1.25"/>
<line x1="61.67" y1="306.92" x2="61.67" y2="312.72" stroke="#111" stroke-width="0.8"/>
<line x1="59.67" y1="306.92" x2="63.67" y2="306.92" stroke="#111" stroke-width="0.8"/>
<line x1="59.67" y1="312.72" x2="63.67" y2="312.72" stroke="#111" stroke-width="0.8"/>
<line x1="70.84" y1="306.32" x2="70.84" y2="313.32" stroke="#111" stroke-width="0.8"/>
<line x1="68.84" y1="306.32" x2="72.84" y2="306.32" stroke="#111" stroke-width="0.8"/>
<line x1="68.84" y1="313.32" x2="72.84" y2="313.32" stroke="#111" stroke-width="0.8"/>
<line x1="80.01" y1="307.9" x2="80.01" y2="315.3" stroke="#111" stroke-width="0.8"/>
<line x1="78.01" y1="307.9" x2="82.01" y2="307.9" stroke="#111" stroke-width="0.8"/>
<line x1="78.01" y1="315.3" x2="82.01" y2="315.3" stroke="#111" stroke-width="0.8"/>
<line x1="89.18" y1="309.28" x2="89.18" y2="316.28" stroke="#111" stroke-width="0.8"/>
<line x1="87.18" y1="309.28" x2="91.18" y2="309.28" stroke="#111" stroke-width="0.8"/>
<line x1="87.18" y1="316.28" x2="91.18" y2="316.28" stroke="#111" stroke-width="0.8"/>
<line x1="98.35" y1="328.02" x2="98.35" y2="334.62" stroke="#111" stroke-width="0.8"/>
<line x1="96.35" y1="328.02" x2="100.35" y2="328.02" stroke="#111" stroke-width="0.8"/>
<line x1="96.35" y1="334.62" x2="100.35" y2="334.62" stroke="#111" stroke-width="0.8"/>
<line x1="107.52" y1="353.07" x2="107.52" y2="359.27" stroke="#111" stroke-width="0.8"/>
<line x1="105.52" y1="353.07" x2="109.52" y2="353.07" stroke="#111" stroke-width="0.8"/>
<line x1="105.52" y1="359.27" x2="109.52" y2="359.27" stroke="#111" stroke-width="0.8"/>
<line x1="116.69" y1="368.68" x2="116.69" y2="374.07" stroke="#111" stroke-width="0.8"/>
<line x1="114.69" y1="368.68" x2="118.69" y2="368.68" stroke="#111" stroke-width="0.8"/>
<line x1="114.69" y1="374.07" x2="118.69" y2="374.07" stroke="#111" stroke-width="0.8"/>
<line x1="125.86" y1="372.35" x2="125.86" y2="378.55" stroke="#111" stroke-width="0.8"/>
<line x1="123.86" y1="372.35" x2="127.86" y2="372.35" stroke="#111" stroke-width="0.8"/>
<line x1="123.86" y1="378.55" x2="127.86" y2="378.55" stroke="#111" stroke-width="0.8"/>
<line x1="135.03" y1="378.46" x2="135.03" y2="385.06" stroke="#111" stroke-width="0.8"/>
<line x1="133.03" y1="378.46" x2="137.03" y2="378.46" stroke="#111" stroke-width="0.8"/>
<line x1="133.03" y1="385.06" x2="137.03" y2="385.06" stroke="#111" stroke-width="0.8"/>
<line x1="144.2" y1="379.73" x2="144.2" y2="384.53" stroke="#111" stroke-width="0.8"/>
<line x1="142.2" y1="379.73" x2="146.2" y2="379.73" stroke="#111" stroke-width="0.8"/>
<line x1="142.2" y1="384.53" x2="146.2" y2="384.53" stroke="#111" stroke-width="0.8"/>
<path d="M52.5 305.78L54.8 308.33L52.5 310.88L50.2 308.33z" fill="#000"/>
<path d="M61.67 307.27L63.97 309.82L61.67 312.37L59.38 309.82z" fill="#000"/>
<path d="M70.84 307.27L73.14 309.82L70.84 312.37L68.55 309.82z" fill="#000"/>
<path d="M80.01 309.05L82.3 311.6L80.01 314.15L77.71 311.6z" fill="#000"/>
<path d="M89.18 310.23L91.48 312.78L89.18 315.33L86.89 312.78z" fill="#000"/>
<path d="M98.35 328.77L100.64 331.32L98.35 333.88L96.05 331.32z" fill="#000"/>
<path d="M107.52 353.62L109.81 356.17L107.52 358.72L105.22 356.17z" fill="#000"/>
<path d="M116.69 368.82L118.98 371.38L116.69 373.93L114.39 371.38z" fill="#000"/>
<path d="M125.86 372.9L128.16 375.45L125.86 378L123.56 375.45z" fill="#000"/>
<path d="M135.03 379.21L137.32 381.76L135.03 384.31L132.74 381.76z" fill="#000"/>
<path d="M144.2 379.58L146.49 382.13L144.2 384.68L141.91 382.13z" fill="#000"/>
<path d="M153.37 379.95L155.66 382.5L153.37 385.05L151.08 382.5z" fill="#000"/>
<line x1="61.67" y1="306.57" x2="61.67" y2="311.57" stroke="#111" stroke-width="0.8"/>
<line x1="59.67" y1="306.57" x2="63.67" y2="306.57" stroke="#111" stroke-width="0.8"/>
<line x1="59.67" y1="311.57" x2="63.67" y2="311.57" stroke="#111" stroke-width="0.8"/>
<line x1="70.84" y1="305.43" x2="70.84" y2="311.23" stroke="#111" stroke-width="0.8"/>
<line x1="68.84" y1="305.43" x2="72.84" y2="305.43" stroke="#111" stroke-width="0.8"/>
<line x1="68.84" y1="311.23" x2="72.84" y2="311.23" stroke="#111" stroke-width="0.8"/>
<line x1="80.01" y1="305.23" x2="80.01" y2="311.43" stroke="#111" stroke-width="0.8"/>
<line x1="78.01" y1="305.23" x2="82.01" y2="305.23" stroke="#111" stroke-width="0.8"/>
<line x1="78.01" y1="311.43" x2="82.01" y2="311.43" stroke="#111" stroke-width="0.8"/>
<line x1="89.18" y1="304.66" x2="89.18" y2="312.46" stroke="#111" stroke-width="0.8"/>
<line x1="87.18" y1="304.66" x2="91.18" y2="304.66" stroke="#111" stroke-width="0.8"/>
<line x1="87.18" y1="312.46" x2="91.18" y2="312.46" stroke="#111" stroke-width="0.8"/>
<line x1="98.35" y1="305.03" x2="98.35" y2="311.63" stroke="#111" stroke-width="0.8"/>
<line x1="96.35" y1="305.03" x2="100.35" y2="305.03" stroke="#111" stroke-width="0.8"/>
<line x1="96.35" y1="311.63" x2="100.35" y2="311.63" stroke="#111" stroke-width="0.8"/>
<line x1="107.52" y1="307.4" x2="107.52" y2="315.2" stroke="#111" stroke-width="0.8"/>
<line x1="105.52" y1="307.4" x2="109.52" y2="307.4" stroke="#111" stroke-width="0.8"/>
<line x1="105.52" y1="315.2" x2="109.52" y2="315.2" stroke="#111" stroke-width="0.8"/>
<line x1="116.69" y1="312.39" x2="116.69" y2="320.59" stroke="#111" stroke-width="0.8"/>
<line x1="114.69" y1="312.39" x2="118.69" y2="312.39" stroke="#111" stroke-width="0.8"/>
<line x1="114.69" y1="320.59" x2="118.69" y2="320.59" stroke="#111" stroke-width="0.8"/>
<line x1="125.86" y1="319.07" x2="125.86" y2="327.27" stroke="#111" stroke-width="0.8"/>
<line x1="123.86" y1="319.07" x2="127.86" y2="319.07" stroke="#111" stroke-width="0.8"/>
<line x1="123.86" y1="327.27" x2="127.86" y2="327.27" stroke="#111" stroke-width="0.8"/>
<line x1="135.03" y1="330.39" x2="135.03" y2="338.19" stroke="#111" stroke-width="0.8"/>
<line x1="133.03" y1="330.39" x2="137.03" y2="330.39" stroke="#111" stroke-width="0.8"/>
<line x1="133.03" y1="338.19" x2="137.03" y2="338.19" stroke="#111" stroke-width="0.8"/>
<line x1="144.2" y1="346.37" x2="144.2" y2="353.37" stroke="#111" stroke-width="0.8"/>
<line x1="142.2" y1="346.37" x2="146.2" y2="346.37" stroke="#111" stroke-width="0.8"/>
<line x1="142.2" y1="353.37" x2="146.2" y2="353.37" stroke="#111" stroke-width="0.8"/>
<line x1="153.37" y1="361.06" x2="153.37" y2="366.86" stroke="#111" stroke-width="0.8"/>
<line x1="151.37" y1="361.06" x2="155.37" y2="361.06" stroke="#111" stroke-width="0.8"/>
<line x1="151.37" y1="366.86" x2="155.37" y2="366.86" stroke="#111" stroke-width="0.8"/>
<rect x="50.2" y="306.03" width="4.6" height="4.6" fill="#000"/>
<rect x="59.37" y="306.77" width="4.6" height="4.6" fill="#000"/>
<rect x="68.54" y="306.03" width="4.6" height="4.6" fill="#000"/>
<rect x="77.71" y="306.03" width="4.6" height="4.6" fill="#000"/>
<rect x="86.88" y="306.26" width="4.6" height="4.6" fill="#000"/>
<rect x="96.05" y="306.03" width="4.6" height="4.6" fill="#000"/>
<rect x="105.22" y="309" width="4.6" height="4.6" fill="#000"/>
<rect x="114.39" y="314.19" width="4.6" height="4.6" fill="#000"/>
<rect x="123.56" y="320.87" width="4.6" height="4.6" fill="#000"/>
<rect x="132.73" y="331.99" width="4.6" height="4.6" fill="#000"/>
<rect x="141.9" y="347.57" width="4.6" height="4.6" fill="#000"/>
<rect x="151.07" y="361.66" width="4.6" height="4.6" fill="#000"/>
<text x="49.5" y="395.91" font-size="7.3" text-anchor="middle">0</text>
<text x="60.4" y="395.91" font-size="7.3" text-anchor="middle">2</text>
<text x="70.7" y="395.91" font-size="7.3" text-anchor="middle">3</text>
<text x="81.2" y="395.91" font-size="7.3" text-anchor="middle">4</text>
<text x="90" y="395.91" font-size="7.3" text-anchor="middle">5</text>
<text x="98.75" y="395.91" font-size="7.3" text-anchor="middle">7</text>
<text x="108.4" y="395.91" font-size="7.3" text-anchor="middle" textLength="7.3" lengthAdjust="spacingAndGlyphs">10</text>
<text x="118.4" y="395.91" font-size="7.3" text-anchor="middle" textLength="7.3" lengthAdjust="spacingAndGlyphs">15</text>
<text x="126.8" y="395.91" font-size="7.3" text-anchor="middle" textLength="7.3" lengthAdjust="spacingAndGlyphs">20</text>
<text x="134.1" y="395.91" font-size="7.3" text-anchor="middle" textLength="7.3" lengthAdjust="spacingAndGlyphs">30</text>
<text x="145.8" y="395.91" font-size="7.3" text-anchor="middle" textLength="7.3" lengthAdjust="spacingAndGlyphs">40</text>
<text x="155.1" y="395.91" font-size="7.3" text-anchor="middle" textLength="7.3" lengthAdjust="spacingAndGlyphs">50</text>
<text x="22.1" y="396.48" font-size="8.6" textLength="18.6" lengthAdjust="spacingAndGlyphs">SKI-II</text>
<text x="13.75" y="408.75" font-size="8.8" textLength="33.75" lengthAdjust="spacingAndGlyphs">(µmol/L)</text>
<text x="19.8" y="338.75" font-size="8.8" text-anchor="middle" textLength="77.5" lengthAdjust="spacingAndGlyphs" transform="rotate(-90 19.8 335.6)">Viability (% control)</text>
<line x1="117" y1="290.5" x2="135" y2="290.5" stroke="#858585" stroke-width="1.4"/>
<circle cx="125.9" cy="290.5" r="2" fill="#fff" stroke="#5c5c5c" stroke-width="1.25"/>
<text x="137.5" y="293.91" font-size="8.7" textLength="55.5" lengthAdjust="spacingAndGlyphs">RPMI8226-EV</text>
<line x1="117" y1="299.5" x2="135" y2="299.5" stroke="#555" stroke-width="0.9" stroke-dasharray="1.3 1.1"/>
<path d="M125.9 296.95L128.19 299.5L125.9 302.05L123.61 299.5z" fill="#000"/>
<text x="137.5" y="302.91" font-size="8.7" textLength="85.5" lengthAdjust="spacingAndGlyphs">RPMI8226-shCXCL12</text>
<line x1="117" y1="308.75" x2="135" y2="308.75" stroke="#858585" stroke-width="1.4"/>
<rect x="123.6" y="306.45" width="4.6" height="4.6" fill="#000"/>
<text x="137.5" y="312.16" font-size="8.7" textLength="72.5" lengthAdjust="spacingAndGlyphs">RPMI8226-CXCR4</text>
<text x="144.8" y="344.02" font-size="11.5" textLength="10.5" lengthAdjust="spacingAndGlyphs">IC</text>
<text x="155.5" y="347.14" font-size="8.2" textLength="8.7" lengthAdjust="spacingAndGlyphs">50</text>
<text x="182" y="333.65" font-size="8.8" textLength="53.8" lengthAdjust="spacingAndGlyphs">RPMI8226-EV</text>
<text x="182.3" y="347.25" font-size="8.8" textLength="43.7" lengthAdjust="spacingAndGlyphs">RPMI8226-</text>
<text x="182.3" y="359.45" font-size="8.8" textLength="38.2" lengthAdjust="spacingAndGlyphs">shCXCL12</text>
<text x="182" y="377.05" font-size="8.8" textLength="44" lengthAdjust="spacingAndGlyphs">RPMI8226-</text>
<text x="182" y="388.15" font-size="8.8" textLength="24.8" lengthAdjust="spacingAndGlyphs">CXCR4</text>
<text x="246.8" y="333.22" font-size="9" textLength="8.7" lengthAdjust="spacingAndGlyphs">19</text>
<text x="245.5" y="354.02" font-size="9" textLength="11.5" lengthAdjust="spacingAndGlyphs">7.8</text>
<text x="243" y="375.72" font-size="9" textLength="16.5" lengthAdjust="spacingAndGlyphs">38.5</text>
<rect x="475.5" y="280" width="36.3" height="112" fill="#dddddd"/>
<text x="483" y="295.65" font-size="8.8" textLength="19.5" lengthAdjust="spacingAndGlyphs">SKI-II</text>
<text transform="translate(478 307.38) scale(0.68 1)" font-size="8.6">IC<tspan font-size="5.33" dy="1.3">50</tspan><tspan dy="-1.3"> (µmol/L)</tspan></text>
<line x1="309.7" y1="341.4" x2="423" y2="341.4" stroke="#1a1a1a" stroke-width="0.85" stroke-dasharray="4 1.6 1.3 1.6"/>
<line x1="313.4" y1="288.7" x2="313.4" y2="376.7" stroke="#3a3a3a" stroke-width="1"/>
<line x1="312.9" y1="376.2" x2="421" y2="376.2" stroke="#3a3a3a" stroke-width="1.1"/>
<line x1="311.6" y1="376.2" x2="313.4" y2="376.2" stroke="#3a3a3a" stroke-width="0.8"/>
<text x="302.7" y="381.19" font-size="8.7" text-anchor="middle">0</text>
<line x1="311.6" y1="361.7" x2="313.4" y2="361.7" stroke="#3a3a3a" stroke-width="0.8"/>
<text x="302.1" y="366.71" font-size="8.7" text-anchor="middle">20</text>
<line x1="311.6" y1="347.2" x2="313.4" y2="347.2" stroke="#3a3a3a" stroke-width="0.8"/>
<text x="302.1" y="352.23" font-size="8.7" text-anchor="middle">40</text>
<line x1="311.6" y1="332.7" x2="313.4" y2="332.7" stroke="#3a3a3a" stroke-width="0.8"/>
<text x="302.1" y="337.75" font-size="8.7" text-anchor="middle">60</text>
<line x1="311.6" y1="318.2" x2="313.4" y2="318.2" stroke="#3a3a3a" stroke-width="0.8"/>
<text x="302.1" y="323.27" font-size="8.7" text-anchor="middle">80</text>
<line x1="311.6" y1="303.7" x2="313.4" y2="303.7" stroke="#3a3a3a" stroke-width="0.8"/>
<text x="302.1" y="308.79" font-size="8.7" text-anchor="middle">100</text>
<line x1="311.6" y1="289.2" x2="313.4" y2="289.2" stroke="#3a3a3a" stroke-width="0.8"/>
<text x="302.1" y="294.31" font-size="8.7" text-anchor="middle">120</text>
<line x1="322.33" y1="376.2" x2="322.33" y2="378" stroke="#3a3a3a" stroke-width="0.8"/>
<line x1="331.26" y1="376.2" x2="331.26" y2="378" stroke="#3a3a3a" stroke-width="0.8"/>
<line x1="340.19" y1="376.2" x2="340.19" y2="378" stroke="#3a3a3a" stroke-width="0.8"/>
<line x1="349.12" y1="376.2" x2="349.12" y2="378" stroke="#3a3a3a" stroke-width="0.8"/>
<line x1="358.05" y1="376.2" x2="358.05" y2="378" stroke="#3a3a3a" stroke-width="0.8"/>
<line x1="366.98" y1="376.2" x2="366.98" y2="378" stroke="#3a3a3a" stroke-width="0.8"/>
<line x1="375.91" y1="376.2" x2="375.91" y2="378" stroke="#3a3a3a" stroke-width="0.8"/>
<line x1="384.84" y1="376.2" x2="384.84" y2="378" stroke="#3a3a3a" stroke-width="0.8"/>
<line x1="393.77" y1="376.2" x2="393.77" y2="378" stroke="#3a3a3a" stroke-width="0.8"/>
<line x1="402.7" y1="376.2" x2="402.7" y2="378" stroke="#3a3a3a" stroke-width="0.8"/>
<line x1="411.63" y1="376.2" x2="411.63" y2="378" stroke="#3a3a3a" stroke-width="0.8"/>
<line x1="420.56" y1="376.2" x2="420.56" y2="378" stroke="#3a3a3a" stroke-width="0.8"/>
<polyline points="318,302.96 326.93,303.7 335.86,304.44 344.79,303.7 353.72,304.44 362.65,314.06 371.58,319.24 380.51,329.97 389.44,336.26 398.37,342.48 407.3,358.46 416.23,372.52" fill="none" stroke="#2a2a2a" stroke-width="0.9" stroke-linejoin="round"/>
<polyline points="318,303.7 326.93,304.44 335.86,304.44 344.79,306.29 353.72,305.55 362.65,305.55 371.58,310.58 380.51,313.32 389.44,321.09 398.37,327.38 407.3,335.15 416.23,351.06" fill="none" stroke="#1a1a1a" stroke-width="0.95" stroke-linejoin="round"/>
<line x1="326.93" y1="301.2" x2="326.93" y2="306.2" stroke="#111" stroke-width="0.8"/>
<line x1="324.93" y1="301.2" x2="328.93" y2="301.2" stroke="#111" stroke-width="0.8"/>
<line x1="324.93" y1="306.2" x2="328.93" y2="306.2" stroke="#111" stroke-width="0.8"/>
<line x1="335.86" y1="300.54" x2="335.86" y2="308.34" stroke="#111" stroke-width="0.8"/>
<line x1="333.86" y1="300.54" x2="337.86" y2="300.54" stroke="#111" stroke-width="0.8"/>
<line x1="333.86" y1="308.34" x2="337.86" y2="308.34" stroke="#111" stroke-width="0.8"/>
<line x1="344.79" y1="300.2" x2="344.79" y2="307.2" stroke="#111" stroke-width="0.8"/>
<line x1="342.79" y1="300.2" x2="346.79" y2="300.2" stroke="#111" stroke-width="0.8"/>
<line x1="342.79" y1="307.2" x2="346.79" y2="307.2" stroke="#111" stroke-width="0.8"/>
<line x1="353.72" y1="300.94" x2="353.72" y2="307.94" stroke="#111" stroke-width="0.8"/>
<line x1="351.72" y1="300.94" x2="355.72" y2="300.94" stroke="#111" stroke-width="0.8"/>
<line x1="351.72" y1="307.94" x2="355.72" y2="307.94" stroke="#111" stroke-width="0.8"/>
<line x1="362.65" y1="309.96" x2="362.65" y2="318.16" stroke="#111" stroke-width="0.8"/>
<line x1="360.65" y1="309.96" x2="364.65" y2="309.96" stroke="#111" stroke-width="0.8"/>
<line x1="360.65" y1="318.16" x2="364.65" y2="318.16" stroke="#111" stroke-width="0.8"/>
<line x1="371.58" y1="314.94" x2="371.58" y2="323.54" stroke="#111" stroke-width="0.8"/>
<line x1="369.58" y1="314.94" x2="373.58" y2="314.94" stroke="#111" stroke-width="0.8"/>
<line x1="369.58" y1="323.54" x2="373.58" y2="323.54" stroke="#111" stroke-width="0.8"/>
<line x1="380.51" y1="326.67" x2="380.51" y2="333.27" stroke="#111" stroke-width="0.8"/>
<line x1="378.51" y1="326.67" x2="382.51" y2="326.67" stroke="#111" stroke-width="0.8"/>
<line x1="378.51" y1="333.27" x2="382.51" y2="333.27" stroke="#111" stroke-width="0.8"/>
<line x1="389.44" y1="333.36" x2="389.44" y2="339.16" stroke="#111" stroke-width="0.8"/>
<line x1="387.44" y1="333.36" x2="391.44" y2="333.36" stroke="#111" stroke-width="0.8"/>
<line x1="387.44" y1="339.16" x2="391.44" y2="339.16" stroke="#111" stroke-width="0.8"/>
<line x1="398.37" y1="338.98" x2="398.37" y2="345.98" stroke="#111" stroke-width="0.8"/>
<line x1="396.37" y1="338.98" x2="400.37" y2="338.98" stroke="#111" stroke-width="0.8"/>
<line x1="396.37" y1="345.98" x2="400.37" y2="345.98" stroke="#111" stroke-width="0.8"/>
<line x1="407.3" y1="355.76" x2="407.3" y2="361.16" stroke="#111" stroke-width="0.8"/>
<line x1="405.3" y1="355.76" x2="409.3" y2="355.76" stroke="#111" stroke-width="0.8"/>
<line x1="405.3" y1="361.16" x2="409.3" y2="361.16" stroke="#111" stroke-width="0.8"/>
<line x1="416.23" y1="370.02" x2="416.23" y2="375.02" stroke="#111" stroke-width="0.8"/>
<line x1="414.23" y1="370.02" x2="418.23" y2="370.02" stroke="#111" stroke-width="0.8"/>
<line x1="414.23" y1="375.02" x2="418.23" y2="375.02" stroke="#111" stroke-width="0.8"/>
<circle cx="318" cy="302.96" r="2" fill="#fff" stroke="#5c5c5c" stroke-width="1.25"/>
<circle cx="326.93" cy="303.7" r="2" fill="#fff" stroke="#5c5c5c" stroke-width="1.25"/>
<circle cx="335.86" cy="304.44" r="2" fill="#fff" stroke="#5c5c5c" stroke-width="1.25"/>
<circle cx="344.79" cy="303.7" r="2" fill="#fff" stroke="#5c5c5c" stroke-width="1.25"/>
<circle cx="353.72" cy="304.44" r="2" fill="#fff" stroke="#5c5c5c" stroke-width="1.25"/>
<circle cx="362.65" cy="314.06" r="2" fill="#fff" stroke="#5c5c5c" stroke-width="1.25"/>
<circle cx="371.58" cy="319.24" r="2" fill="#fff" stroke="#5c5c5c" stroke-width="1.25"/>
<circle cx="380.51" cy="329.97" r="2" fill="#fff" stroke="#5c5c5c" stroke-width="1.25"/>
<circle cx="389.44" cy="336.26" r="2" fill="#fff" stroke="#5c5c5c" stroke-width="1.25"/>
<circle cx="398.37" cy="342.48" r="2" fill="#fff" stroke="#5c5c5c" stroke-width="1.25"/>
<circle cx="407.3" cy="358.46" r="2" fill="#fff" stroke="#5c5c5c" stroke-width="1.25"/>
<circle cx="416.23" cy="372.52" r="2" fill="#fff" stroke="#5c5c5c" stroke-width="1.25"/>
<line x1="326.93" y1="301.94" x2="326.93" y2="306.94" stroke="#111" stroke-width="0.8"/>
<line x1="324.93" y1="301.94" x2="328.93" y2="301.94" stroke="#111" stroke-width="0.8"/>
<line x1="324.93" y1="306.94" x2="328.93" y2="306.94" stroke="#111" stroke-width="0.8"/>
<line x1="335.86" y1="301.54" x2="335.86" y2="307.34" stroke="#111" stroke-width="0.8"/>
<line x1="333.86" y1="301.54" x2="337.86" y2="301.54" stroke="#111" stroke-width="0.8"/>
<line x1="333.86" y1="307.34" x2="337.86" y2="307.34" stroke="#111" stroke-width="0.8"/>
<line x1="344.79" y1="303.39" x2="344.79" y2="309.19" stroke="#111" stroke-width="0.8"/>
<line x1="342.79" y1="303.39" x2="346.79" y2="303.39" stroke="#111" stroke-width="0.8"/>
<line x1="342.79" y1="309.19" x2="346.79" y2="309.19" stroke="#111" stroke-width="0.8"/>
<line x1="353.72" y1="301.25" x2="353.72" y2="309.85" stroke="#111" stroke-width="0.8"/>
<line x1="351.72" y1="301.25" x2="355.72" y2="301.25" stroke="#111" stroke-width="0.8"/>
<line x1="351.72" y1="309.85" x2="355.72" y2="309.85" stroke="#111" stroke-width="0.8"/>
<line x1="362.65" y1="302.45" x2="362.65" y2="308.65" stroke="#111" stroke-width="0.8"/>
<line x1="360.65" y1="302.45" x2="364.65" y2="302.45" stroke="#111" stroke-width="0.8"/>
<line x1="360.65" y1="308.65" x2="364.65" y2="308.65" stroke="#111" stroke-width="0.8"/>
<line x1="371.58" y1="306.88" x2="371.58" y2="314.28" stroke="#111" stroke-width="0.8"/>
<line x1="369.58" y1="306.88" x2="373.58" y2="306.88" stroke="#111" stroke-width="0.8"/>
<line x1="369.58" y1="314.28" x2="373.58" y2="314.28" stroke="#111" stroke-width="0.8"/>
<line x1="380.51" y1="309.22" x2="380.51" y2="317.42" stroke="#111" stroke-width="0.8"/>
<line x1="378.51" y1="309.22" x2="382.51" y2="309.22" stroke="#111" stroke-width="0.8"/>
<line x1="378.51" y1="317.42" x2="382.51" y2="317.42" stroke="#111" stroke-width="0.8"/>
<line x1="389.44" y1="316.99" x2="389.44" y2="325.19" stroke="#111" stroke-width="0.8"/>
<line x1="387.44" y1="316.99" x2="391.44" y2="316.99" stroke="#111" stroke-width="0.8"/>
<line x1="387.44" y1="325.19" x2="391.44" y2="325.19" stroke="#111" stroke-width="0.8"/>
<line x1="398.37" y1="323.88" x2="398.37" y2="330.88" stroke="#111" stroke-width="0.8"/>
<line x1="396.37" y1="323.88" x2="400.37" y2="323.88" stroke="#111" stroke-width="0.8"/>
<line x1="396.37" y1="330.88" x2="400.37" y2="330.88" stroke="#111" stroke-width="0.8"/>
<line x1="407.3" y1="331.85" x2="407.3" y2="338.45" stroke="#111" stroke-width="0.8"/>
<line x1="405.3" y1="331.85" x2="409.3" y2="331.85" stroke="#111" stroke-width="0.8"/>
<line x1="405.3" y1="338.45" x2="409.3" y2="338.45" stroke="#111" stroke-width="0.8"/>
<line x1="416.23" y1="348.16" x2="416.23" y2="353.96" stroke="#111" stroke-width="0.8"/>
<line x1="414.23" y1="348.16" x2="418.23" y2="348.16" stroke="#111" stroke-width="0.8"/>
<line x1="414.23" y1="353.96" x2="418.23" y2="353.96" stroke="#111" stroke-width="0.8"/>
<rect x="315.7" y="301.4" width="4.6" height="4.6" fill="#000"/>
<rect x="324.63" y="302.14" width="4.6" height="4.6" fill="#000"/>
<rect x="333.56" y="302.14" width="4.6" height="4.6" fill="#000"/>
<rect x="342.49" y="303.99" width="4.6" height="4.6" fill="#000"/>
<rect x="351.42" y="303.25" width="4.6" height="4.6" fill="#000"/>
<rect x="360.35" y="303.25" width="4.6" height="4.6" fill="#000"/>
<rect x="369.28" y="308.28" width="4.6" height="4.6" fill="#000"/>
<rect x="378.21" y="311.02" width="4.6" height="4.6" fill="#000"/>
<rect x="387.14" y="318.79" width="4.6" height="4.6" fill="#000"/>
<rect x="396.07" y="325.08" width="4.6" height="4.6" fill="#000"/>
<rect x="405" y="332.85" width="4.6" height="4.6" fill="#000"/>
<rect x="413.93" y="348.76" width="4.6" height="4.6" fill="#000"/>
<text x="314.7" y="390.01" font-size="7.3" text-anchor="middle">0</text>
<text x="325.6" y="390.01" font-size="7.3" text-anchor="middle">2</text>
<text x="335.7" y="390.01" font-size="7.3" text-anchor="middle">3</text>
<text x="345.4" y="390.01" font-size="7.3" text-anchor="middle">4</text>
<text x="354.5" y="390.01" font-size="7.3" text-anchor="middle">5</text>
<text x="362.5" y="390.01" font-size="7.3" text-anchor="middle">7</text>
<text x="373.4" y="390.01" font-size="7.3" text-anchor="middle" textLength="7.3" lengthAdjust="spacingAndGlyphs">10</text>
<text x="383.5" y="390.01" font-size="7.3" text-anchor="middle" textLength="7.3" lengthAdjust="spacingAndGlyphs">15</text>
<text x="392.9" y="390.01" font-size="7.3" text-anchor="middle" textLength="7.3" lengthAdjust="spacingAndGlyphs">20</text>
<text x="400.2" y="390.01" font-size="7.3" text-anchor="middle" textLength="7.3" lengthAdjust="spacingAndGlyphs">30</text>
<text x="411" y="390.01" font-size="7.3" text-anchor="middle" textLength="7.3" lengthAdjust="spacingAndGlyphs">40</text>
<text x="420.4" y="390.01" font-size="7.3" text-anchor="middle" textLength="7.3" lengthAdjust="spacingAndGlyphs">50</text>
<text x="287.5" y="390.38" font-size="8.6" textLength="18.7" lengthAdjust="spacingAndGlyphs">SKI-II</text>
<text x="281.8" y="402.55" font-size="8.8" textLength="33.2" lengthAdjust="spacingAndGlyphs">(µmol/L)</text>
<line x1="388.75" y1="292" x2="402.5" y2="292" stroke="#858585" stroke-width="1.4"/>
<circle cx="395.9" cy="292" r="2" fill="#fff" stroke="#5c5c5c" stroke-width="1.25"/>
<text x="405" y="296.11" font-size="8.7" textLength="33" lengthAdjust="spacingAndGlyphs">CAG-EV</text>
<line x1="388.75" y1="304.6" x2="402.5" y2="304.6" stroke="#858585" stroke-width="1.4"/>
<rect x="393.6" y="302.3" width="4.6" height="4.6" fill="#000"/>
<text x="405" y="308.21" font-size="8.7" textLength="50.5" lengthAdjust="spacingAndGlyphs">CAG-CXCR4</text>
<text x="414.3" y="339.62" font-size="11.5" textLength="10.7" lengthAdjust="spacingAndGlyphs">IC</text>
<text x="425.2" y="341.84" font-size="8.2" textLength="9.3" lengthAdjust="spacingAndGlyphs">50</text>
<text x="448.8" y="328.65" font-size="8.8" textLength="19.5" lengthAdjust="spacingAndGlyphs">CAG-</text>
<text x="448.8" y="340.65" font-size="8.8" textLength="10.5" lengthAdjust="spacingAndGlyphs">EV</text>
<text x="448.3" y="361.9" font-size="8.8" textLength="19.5" lengthAdjust="spacingAndGlyphs">CAG-</text>
<text x="448.2" y="373.15" font-size="8.8" textLength="25.1" lengthAdjust="spacingAndGlyphs">CXCR4</text>
<text x="487" y="331.22" font-size="9" textLength="10" lengthAdjust="spacingAndGlyphs">28</text>
<text x="487" y="367.02" font-size="9" textLength="10" lengthAdjust="spacingAndGlyphs">43</text>
<line x1="66.3" y1="428.4" x2="66.3" y2="513.9" stroke="#3a3a3a" stroke-width="0.9"/>
<line x1="64.5" y1="513.5" x2="66.3" y2="513.5" stroke="#3a3a3a" stroke-width="0.8"/>
<text x="56.1" y="517.13" font-size="8.7" text-anchor="middle">0</text>
<line x1="64.5" y1="499.4" x2="66.3" y2="499.4" stroke="#3a3a3a" stroke-width="0.8"/>
<text x="55.5" y="502.96" font-size="8.7" text-anchor="middle">20</text>
<line x1="64.5" y1="485.3" x2="66.3" y2="485.3" stroke="#3a3a3a" stroke-width="0.8"/>
<text x="55.5" y="488.79" font-size="8.7" text-anchor="middle">40</text>
<line x1="64.5" y1="471.2" x2="66.3" y2="471.2" stroke="#3a3a3a" stroke-width="0.8"/>
<text x="55.5" y="474.62" font-size="8.7" text-anchor="middle">60</text>
<line x1="64.5" y1="457.1" x2="66.3" y2="457.1" stroke="#3a3a3a" stroke-width="0.8"/>
<text x="55.5" y="460.45" font-size="8.7" text-anchor="middle">80</text>
<line x1="64.5" y1="443" x2="66.3" y2="443" stroke="#3a3a3a" stroke-width="0.8"/>
<text x="55.5" y="446.28" font-size="8.7" text-anchor="middle">100</text>
<line x1="64.5" y1="428.9" x2="66.3" y2="428.9" stroke="#3a3a3a" stroke-width="0.8"/>
<text x="55.5" y="432.11" font-size="8.7" text-anchor="middle">120</text>
<line x1="73.1" y1="441.3" x2="73.1" y2="443" stroke="#444" stroke-width="0.8"/>
<line x1="71.7" y1="441.3" x2="74.5" y2="441.3" stroke="#444" stroke-width="0.8"/>
<rect x="68.75" y="443" width="8.7" height="70.9" fill="#000"/>
<line x1="83.73" y1="472.5" x2="83.73" y2="474.44" stroke="#444" stroke-width="0.8"/>
<line x1="82.33" y1="472.5" x2="85.13" y2="472.5" stroke="#444" stroke-width="0.8"/>
<rect x="79.38" y="474.44" width="8.7" height="39.46" fill="#000"/>
<line x1="94.36" y1="485" x2="94.36" y2="489.11" stroke="#444" stroke-width="0.8"/>
<line x1="92.96" y1="485" x2="95.76" y2="485" stroke="#444" stroke-width="0.8"/>
<rect x="90.01" y="489.11" width="8.7" height="24.79" fill="#000"/>
<line x1="104.99" y1="455.8" x2="104.99" y2="458.79" stroke="#444" stroke-width="0.8"/>
<line x1="103.59" y1="455.8" x2="106.39" y2="455.8" stroke="#444" stroke-width="0.8"/>
<rect x="100.64" y="458.79" width="8.7" height="55.11" fill="#000"/>
<line x1="115.62" y1="479.5" x2="115.62" y2="481.92" stroke="#444" stroke-width="0.8"/>
<line x1="114.22" y1="479.5" x2="117.02" y2="479.5" stroke="#444" stroke-width="0.8"/>
<rect x="111.27" y="481.92" width="8.7" height="31.98" fill="#000"/>
<line x1="126.25" y1="499.3" x2="126.25" y2="503.63" stroke="#444" stroke-width="0.8"/>
<line x1="124.85" y1="499.3" x2="127.65" y2="499.3" stroke="#444" stroke-width="0.8"/>
<rect x="121.9" y="503.63" width="8.7" height="10.27" fill="#000"/>
<line x1="136.88" y1="506.3" x2="136.88" y2="510.68" stroke="#444" stroke-width="0.8"/>
<line x1="135.48" y1="506.3" x2="138.28" y2="506.3" stroke="#444" stroke-width="0.8"/>
<rect x="132.53" y="510.68" width="8.7" height="3.22" fill="#000"/>
<line x1="147.51" y1="507.5" x2="147.51" y2="510.68" stroke="#444" stroke-width="0.8"/>
<line x1="146.11" y1="507.5" x2="148.91" y2="507.5" stroke="#444" stroke-width="0.8"/>
<rect x="143.16" y="510.68" width="8.7" height="3.22" fill="#000"/>
<rect x="153.79" y="513.01" width="8.7" height="0.89" fill="#000"/>
<line x1="65.9" y1="513.5" x2="163" y2="513.5" stroke="#111" stroke-width="1"/>
<text x="126.3" y="500.37" font-size="9.4" text-anchor="middle" fill="#000" textLength="8.5" lengthAdjust="spacingAndGlyphs" style="stroke-width:0.05em">**</text>
<text x="137" y="505.37" font-size="9.4" text-anchor="middle" fill="#000" textLength="8.5" lengthAdjust="spacingAndGlyphs" style="stroke-width:0.05em">**</text>
<text x="148.3" y="509.07" font-size="9.4" text-anchor="middle" fill="#000" textLength="8.5" lengthAdjust="spacingAndGlyphs" style="stroke-width:0.05em">**</text>
<text x="158.8" y="514.57" font-size="9.4" text-anchor="middle" fill="#000" textLength="8.5" lengthAdjust="spacingAndGlyphs" style="stroke-width:0.05em">**</text>
<text x="88.75" y="431.86" font-size="8.7" textLength="55.5" lengthAdjust="spacingAndGlyphs">RPMI8226-EV</text>
<text x="72.5" y="528.25" font-size="8.8" text-anchor="middle">0</text>
<text x="81.75" y="528.25" font-size="8.8" text-anchor="middle">5</text>
<text x="92" y="528.25" font-size="8.8" text-anchor="middle">7</text>
<text x="102.5" y="528.25" font-size="8.8" text-anchor="middle">0</text>
<text x="113" y="528.25" font-size="8.8" text-anchor="middle">0</text>
<text x="124.25" y="528.25" font-size="8.8" text-anchor="middle">5</text>
<text x="135.5" y="528.25" font-size="8.8" text-anchor="middle">7</text>
<text x="147.5" y="528.25" font-size="8.8" text-anchor="middle">5</text>
<text x="158" y="528.25" font-size="8.8" text-anchor="middle">7</text>
<text x="72.5" y="542.15" font-size="8.8" text-anchor="middle">0</text>
<text x="82.5" y="542.15" font-size="8.8" text-anchor="middle">0</text>
<text x="92.5" y="542.15" font-size="8.8" text-anchor="middle">0</text>
<text x="103" y="542.15" font-size="8.8" text-anchor="middle" textLength="9.2" lengthAdjust="spacingAndGlyphs">10</text>
<text x="115" y="542.15" font-size="8.8" text-anchor="middle" textLength="9.2" lengthAdjust="spacingAndGlyphs">20</text>
<text x="125.75" y="542.15" font-size="8.8" text-anchor="middle" textLength="9.2" lengthAdjust="spacingAndGlyphs">10</text>
<text x="136.75" y="542.15" font-size="8.8" text-anchor="middle" textLength="9.2" lengthAdjust="spacingAndGlyphs">10</text>
<text x="149.25" y="542.15" font-size="8.8" text-anchor="middle" textLength="9.2" lengthAdjust="spacingAndGlyphs">20</text>
<text x="160" y="542.15" font-size="8.8" text-anchor="middle" textLength="9.2" lengthAdjust="spacingAndGlyphs">20</text>
<text x="36.25" y="466.65" font-size="8.8" text-anchor="middle" textLength="77" lengthAdjust="spacingAndGlyphs" transform="rotate(-90 36.25 463.5)">Viability (% control)</text>
<text x="0.5" y="528.9" font-size="8.8" textLength="64.5" lengthAdjust="spacingAndGlyphs">FTY720 (µmol/L)</text>
<text x="2.5" y="542.4" font-size="8.8" textLength="55.5" lengthAdjust="spacingAndGlyphs">SKI-II (µmol/L)</text>
<line x1="184.7" y1="428.64" x2="184.7" y2="513.9" stroke="#3a3a3a" stroke-width="0.9"/>
<line x1="182.9" y1="513.5" x2="184.7" y2="513.5" stroke="#3a3a3a" stroke-width="0.8"/>
<text x="174.6" y="518.31" font-size="8.7" text-anchor="middle">0</text>
<line x1="182.9" y1="499.44" x2="184.7" y2="499.44" stroke="#3a3a3a" stroke-width="0.8"/>
<text x="174" y="504.11" font-size="8.7" text-anchor="middle">20</text>
<line x1="182.9" y1="485.38" x2="184.7" y2="485.38" stroke="#3a3a3a" stroke-width="0.8"/>
<text x="174" y="489.91" font-size="8.7" text-anchor="middle">40</text>
<line x1="182.9" y1="471.32" x2="184.7" y2="471.32" stroke="#3a3a3a" stroke-width="0.8"/>
<text x="174" y="475.71" font-size="8.7" text-anchor="middle">60</text>
<line x1="182.9" y1="457.26" x2="184.7" y2="457.26" stroke="#3a3a3a" stroke-width="0.8"/>
<text x="174" y="461.51" font-size="8.7" text-anchor="middle">80</text>
<line x1="182.9" y1="443.2" x2="184.7" y2="443.2" stroke="#3a3a3a" stroke-width="0.8"/>
<text x="174" y="447.31" font-size="8.7" text-anchor="middle">100</text>
<line x1="182.9" y1="429.14" x2="184.7" y2="429.14" stroke="#3a3a3a" stroke-width="0.8"/>
<text x="174" y="433.11" font-size="8.7" text-anchor="middle">120</text>
<line x1="190.62" y1="441.5" x2="190.62" y2="443.2" stroke="#444" stroke-width="0.8"/>
<line x1="189.22" y1="441.5" x2="192.03" y2="441.5" stroke="#444" stroke-width="0.8"/>
<rect x="186.25" y="443.2" width="8.75" height="70.7" fill="#000"/>
<line x1="201.5" y1="453.3" x2="201.5" y2="455.85" stroke="#444" stroke-width="0.8"/>
<line x1="200.1" y1="453.3" x2="202.9" y2="453.3" stroke="#444" stroke-width="0.8"/>
<rect x="197.12" y="455.85" width="8.75" height="58.05" fill="#000"/>
<line x1="212.38" y1="465" x2="212.38" y2="467.81" stroke="#444" stroke-width="0.8"/>
<line x1="210.97" y1="465" x2="213.78" y2="465" stroke="#444" stroke-width="0.8"/>
<rect x="208" y="467.81" width="8.75" height="46.09" fill="#000"/>
<line x1="223.25" y1="445.75" x2="223.25" y2="447.42" stroke="#444" stroke-width="0.8"/>
<line x1="221.85" y1="445.75" x2="224.65" y2="445.75" stroke="#444" stroke-width="0.8"/>
<rect x="218.88" y="447.42" width="8.75" height="66.48" fill="#000"/>
<line x1="234.12" y1="453.75" x2="234.12" y2="457.96" stroke="#444" stroke-width="0.8"/>
<line x1="232.72" y1="453.75" x2="235.53" y2="453.75" stroke="#444" stroke-width="0.8"/>
<rect x="229.75" y="457.96" width="8.75" height="55.94" fill="#000"/>
<line x1="245" y1="479.5" x2="245" y2="481.87" stroke="#444" stroke-width="0.8"/>
<line x1="243.6" y1="479.5" x2="246.4" y2="479.5" stroke="#444" stroke-width="0.8"/>
<rect x="240.62" y="481.87" width="8.75" height="32.03" fill="#000"/>
<line x1="255.88" y1="492" x2="255.88" y2="496.21" stroke="#444" stroke-width="0.8"/>
<line x1="254.47" y1="492" x2="257.27" y2="492" stroke="#444" stroke-width="0.8"/>
<rect x="251.5" y="496.21" width="8.75" height="17.69" fill="#000"/>
<line x1="266.75" y1="495" x2="266.75" y2="498.74" stroke="#444" stroke-width="0.8"/>
<line x1="265.35" y1="495" x2="268.15" y2="495" stroke="#444" stroke-width="0.8"/>
<rect x="262.38" y="498.74" width="8.75" height="15.16" fill="#000"/>
<line x1="277.62" y1="506.25" x2="277.62" y2="509.99" stroke="#444" stroke-width="0.8"/>
<line x1="276.23" y1="506.25" x2="279.02" y2="506.25" stroke="#444" stroke-width="0.8"/>
<rect x="273.25" y="509.99" width="8.75" height="3.91" fill="#000"/>
<line x1="184.3" y1="513.5" x2="283" y2="513.5" stroke="#111" stroke-width="1"/>
<text x="246.75" y="477.07" font-size="9.4" text-anchor="middle" fill="#000" textLength="8.5" lengthAdjust="spacingAndGlyphs" style="stroke-width:0.05em">**</text>
<text x="258" y="489.57" font-size="9.4" text-anchor="middle" fill="#000" textLength="8.5" lengthAdjust="spacingAndGlyphs" style="stroke-width:0.05em">**</text>
<text x="268" y="492.82" font-size="9.4" text-anchor="middle" fill="#000" textLength="8.5" lengthAdjust="spacingAndGlyphs" style="stroke-width:0.05em">**</text>
<text x="278.75" y="505.32" font-size="9.4" text-anchor="middle" fill="#000" textLength="8.5" lengthAdjust="spacingAndGlyphs" style="stroke-width:0.05em">**</text>
<text x="202" y="430.61" font-size="8.7" textLength="72.25" lengthAdjust="spacingAndGlyphs">RPMI8226-CXCR4</text>
<text x="190.5" y="528.25" font-size="8.8" text-anchor="middle">0</text>
<text x="200.75" y="528.25" font-size="8.8" text-anchor="middle">5</text>
<text x="211.25" y="528.25" font-size="8.8" text-anchor="middle">7</text>
<text x="221.25" y="528.25" font-size="8.8" text-anchor="middle">0</text>
<text x="231.25" y="528.25" font-size="8.8" text-anchor="middle">0</text>
<text x="243.75" y="528.25" font-size="8.8" text-anchor="middle">5</text>
<text x="253.75" y="528.25" font-size="8.8" text-anchor="middle">7</text>
<text x="265.5" y="528.25" font-size="8.8" text-anchor="middle">5</text>
<text x="275.5" y="528.25" font-size="8.8" text-anchor="middle">7</text>
<text x="190.5" y="542.15" font-size="8.8" text-anchor="middle">0</text>
<text x="200.75" y="542.15" font-size="8.8" text-anchor="middle">0</text>
<text x="211.25" y="542.15" font-size="8.8" text-anchor="middle">0</text>
<text x="221.75" y="542.15" font-size="8.8" text-anchor="middle" textLength="9.2" lengthAdjust="spacingAndGlyphs">10</text>
<text x="233.75" y="542.15" font-size="8.8" text-anchor="middle" textLength="9.2" lengthAdjust="spacingAndGlyphs">20</text>
<text x="245" y="542.15" font-size="8.8" text-anchor="middle" textLength="9.2" lengthAdjust="spacingAndGlyphs">10</text>
<text x="255.5" y="542.15" font-size="8.8" text-anchor="middle" textLength="9.2" lengthAdjust="spacingAndGlyphs">10</text>
<text x="267.5" y="542.15" font-size="8.8" text-anchor="middle" textLength="9.2" lengthAdjust="spacingAndGlyphs">20</text>
<text x="278" y="542.15" font-size="8.8" text-anchor="middle" textLength="9.2" lengthAdjust="spacingAndGlyphs">20</text>
<line x1="305.4" y1="429.14" x2="305.4" y2="515" stroke="#3a3a3a" stroke-width="0.9"/>
<line x1="303.6" y1="514.6" x2="305.4" y2="514.6" stroke="#3a3a3a" stroke-width="0.8"/>
<text x="295.5" y="518.31" font-size="8.7" text-anchor="middle">0</text>
<line x1="303.6" y1="500.44" x2="305.4" y2="500.44" stroke="#3a3a3a" stroke-width="0.8"/>
<text x="294.9" y="504.11" font-size="8.7" text-anchor="middle">20</text>
<line x1="303.6" y1="486.28" x2="305.4" y2="486.28" stroke="#3a3a3a" stroke-width="0.8"/>
<text x="294.9" y="489.91" font-size="8.7" text-anchor="middle">40</text>
<line x1="303.6" y1="472.12" x2="305.4" y2="472.12" stroke="#3a3a3a" stroke-width="0.8"/>
<text x="294.9" y="475.71" font-size="8.7" text-anchor="middle">60</text>
<line x1="303.6" y1="457.96" x2="305.4" y2="457.96" stroke="#3a3a3a" stroke-width="0.8"/>
<text x="294.9" y="461.51" font-size="8.7" text-anchor="middle">80</text>
<line x1="303.6" y1="443.8" x2="305.4" y2="443.8" stroke="#3a3a3a" stroke-width="0.8"/>
<text x="294.9" y="447.31" font-size="8.7" text-anchor="middle">100</text>
<line x1="303.6" y1="429.64" x2="305.4" y2="429.64" stroke="#3a3a3a" stroke-width="0.8"/>
<text x="294.9" y="433.11" font-size="8.7" text-anchor="middle">120</text>
<line x1="311.88" y1="441.75" x2="311.88" y2="444.51" stroke="#444" stroke-width="0.8"/>
<line x1="310.48" y1="441.75" x2="313.27" y2="441.75" stroke="#444" stroke-width="0.8"/>
<rect x="307.5" y="444.51" width="8.75" height="70.49" fill="#000"/>
<line x1="322.81" y1="490.5" x2="322.81" y2="494.07" stroke="#444" stroke-width="0.8"/>
<line x1="321.42" y1="490.5" x2="324.21" y2="490.5" stroke="#444" stroke-width="0.8"/>
<rect x="318.44" y="494.07" width="8.75" height="20.93" fill="#000"/>
<line x1="333.75" y1="505" x2="333.75" y2="508.23" stroke="#444" stroke-width="0.8"/>
<line x1="332.36" y1="505" x2="335.15" y2="505" stroke="#444" stroke-width="0.8"/>
<rect x="329.38" y="508.23" width="8.75" height="6.77" fill="#000"/>
<line x1="344.69" y1="460" x2="344.69" y2="463.62" stroke="#444" stroke-width="0.8"/>
<line x1="343.3" y1="460" x2="346.09" y2="460" stroke="#444" stroke-width="0.8"/>
<rect x="340.32" y="463.62" width="8.75" height="51.38" fill="#000"/>
<line x1="355.63" y1="476.25" x2="355.63" y2="481.32" stroke="#444" stroke-width="0.8"/>
<line x1="354.24" y1="476.25" x2="357.03" y2="476.25" stroke="#444" stroke-width="0.8"/>
<rect x="351.26" y="481.32" width="8.75" height="33.68" fill="#000"/>
<line x1="366.57" y1="504.5" x2="366.57" y2="508.94" stroke="#444" stroke-width="0.8"/>
<line x1="365.18" y1="504.5" x2="367.97" y2="504.5" stroke="#444" stroke-width="0.8"/>
<rect x="362.2" y="508.94" width="8.75" height="6.06" fill="#000"/>
<line x1="377.51" y1="508.25" x2="377.51" y2="511.41" stroke="#444" stroke-width="0.8"/>
<line x1="376.12" y1="508.25" x2="378.91" y2="508.25" stroke="#444" stroke-width="0.8"/>
<rect x="373.14" y="511.41" width="8.75" height="3.59" fill="#000"/>
<line x1="388.45" y1="510.75" x2="388.45" y2="513.18" stroke="#444" stroke-width="0.8"/>
<line x1="387.06" y1="510.75" x2="389.85" y2="510.75" stroke="#444" stroke-width="0.8"/>
<rect x="384.08" y="513.18" width="8.75" height="1.82" fill="#000"/>
<rect x="395.02" y="514.25" width="8.75" height="0.75" fill="#000"/>
<line x1="305" y1="514.6" x2="404.5" y2="514.6" stroke="#111" stroke-width="1"/>
<text x="367" y="502.07" font-size="9.4" text-anchor="middle" fill="#000" textLength="8.5" lengthAdjust="spacingAndGlyphs" style="stroke-width:0.05em">**</text>
<text x="378.25" y="507.07" font-size="9.4" text-anchor="middle" fill="#000" textLength="8.5" lengthAdjust="spacingAndGlyphs" style="stroke-width:0.05em">**</text>
<text x="389.25" y="510.07" font-size="9.4" text-anchor="middle" fill="#000" textLength="8.5" lengthAdjust="spacingAndGlyphs" style="stroke-width:0.05em">**</text>
<text x="400" y="515.82" font-size="9.4" text-anchor="middle" fill="#000" textLength="8.5" lengthAdjust="spacingAndGlyphs" style="stroke-width:0.05em">**</text>
<text x="335.75" y="430.11" font-size="8.7" textLength="33" lengthAdjust="spacingAndGlyphs">CAG-EV</text>
<text x="312.5" y="528.25" font-size="8.8" text-anchor="middle">0</text>
<text x="322.5" y="528.25" font-size="8.8" text-anchor="middle">5</text>
<text x="333" y="528.25" font-size="8.8" text-anchor="middle">7</text>
<text x="343" y="528.25" font-size="8.8" text-anchor="middle">0</text>
<text x="353.75" y="528.25" font-size="8.8" text-anchor="middle">0</text>
<text x="365.5" y="528.25" font-size="8.8" text-anchor="middle">5</text>
<text x="375.75" y="528.25" font-size="8.8" text-anchor="middle">7</text>
<text x="388" y="528.25" font-size="8.8" text-anchor="middle">5</text>
<text x="398.25" y="528.25" font-size="8.8" text-anchor="middle">7</text>
<text x="312.5" y="542.15" font-size="8.8" text-anchor="middle">0</text>
<text x="322.5" y="542.15" font-size="8.8" text-anchor="middle">0</text>
<text x="333" y="542.15" font-size="8.8" text-anchor="middle">0</text>
<text x="343.75" y="542.15" font-size="8.8" text-anchor="middle" textLength="9.2" lengthAdjust="spacingAndGlyphs">10</text>
<text x="355.5" y="542.15" font-size="8.8" text-anchor="middle" textLength="9.2" lengthAdjust="spacingAndGlyphs">20</text>
<text x="366.25" y="542.15" font-size="8.8" text-anchor="middle" textLength="9.2" lengthAdjust="spacingAndGlyphs">10</text>
<text x="377.5" y="542.15" font-size="8.8" text-anchor="middle" textLength="9.2" lengthAdjust="spacingAndGlyphs">10</text>
<text x="389.5" y="542.15" font-size="8.8" text-anchor="middle" textLength="9.2" lengthAdjust="spacingAndGlyphs">20</text>
<text x="400" y="542.15" font-size="8.8" text-anchor="middle" textLength="9.2" lengthAdjust="spacingAndGlyphs">20</text>
<line x1="420.3" y1="427.96" x2="420.3" y2="513.7" stroke="#3a3a3a" stroke-width="0.9"/>
<line x1="418.5" y1="513.3" x2="420.3" y2="513.3" stroke="#3a3a3a" stroke-width="0.8"/>
<text x="410.1" y="518.31" font-size="8.7" text-anchor="middle">0</text>
<line x1="418.5" y1="499.16" x2="420.3" y2="499.16" stroke="#3a3a3a" stroke-width="0.8"/>
<text x="409.5" y="504.11" font-size="8.7" text-anchor="middle">20</text>
<line x1="418.5" y1="485.02" x2="420.3" y2="485.02" stroke="#3a3a3a" stroke-width="0.8"/>
<text x="409.5" y="489.91" font-size="8.7" text-anchor="middle">40</text>
<line x1="418.5" y1="470.88" x2="420.3" y2="470.88" stroke="#3a3a3a" stroke-width="0.8"/>
<text x="409.5" y="475.71" font-size="8.7" text-anchor="middle">60</text>
<line x1="418.5" y1="456.74" x2="420.3" y2="456.74" stroke="#3a3a3a" stroke-width="0.8"/>
<text x="409.5" y="461.51" font-size="8.7" text-anchor="middle">80</text>
<line x1="418.5" y1="442.6" x2="420.3" y2="442.6" stroke="#3a3a3a" stroke-width="0.8"/>
<text x="409.5" y="447.31" font-size="8.7" text-anchor="middle">100</text>
<line x1="418.5" y1="428.46" x2="420.3" y2="428.46" stroke="#3a3a3a" stroke-width="0.8"/>
<text x="409.5" y="433.11" font-size="8.7" text-anchor="middle">120</text>
<line x1="426.88" y1="440.5" x2="426.88" y2="442.6" stroke="#444" stroke-width="0.8"/>
<line x1="425.48" y1="440.5" x2="428.27" y2="440.5" stroke="#444" stroke-width="0.8"/>
<rect x="422.5" y="442.6" width="8.75" height="71.1" fill="#000"/>
<line x1="437.73" y1="464.25" x2="437.73" y2="466.28" stroke="#444" stroke-width="0.8"/>
<line x1="436.33" y1="464.25" x2="439.12" y2="464.25" stroke="#444" stroke-width="0.8"/>
<rect x="433.35" y="466.28" width="8.75" height="47.42" fill="#000"/>
<line x1="448.57" y1="477.5" x2="448.57" y2="481.84" stroke="#444" stroke-width="0.8"/>
<line x1="447.18" y1="477.5" x2="449.97" y2="477.5" stroke="#444" stroke-width="0.8"/>
<rect x="444.2" y="481.84" width="8.75" height="31.86" fill="#000"/>
<line x1="459.43" y1="450" x2="459.43" y2="453.21" stroke="#444" stroke-width="0.8"/>
<line x1="458.03" y1="450" x2="460.82" y2="450" stroke="#444" stroke-width="0.8"/>
<rect x="455.05" y="453.21" width="8.75" height="60.49" fill="#000"/>
<line x1="470.27" y1="458" x2="470.27" y2="460.63" stroke="#444" stroke-width="0.8"/>
<line x1="468.88" y1="458" x2="471.67" y2="458" stroke="#444" stroke-width="0.8"/>
<rect x="465.9" y="460.63" width="8.75" height="53.07" fill="#000"/>
<line x1="481.12" y1="484.5" x2="481.12" y2="488.84" stroke="#444" stroke-width="0.8"/>
<line x1="479.73" y1="484.5" x2="482.52" y2="484.5" stroke="#444" stroke-width="0.8"/>
<rect x="476.75" y="488.84" width="8.75" height="24.86" fill="#000"/>
<line x1="491.98" y1="502" x2="491.98" y2="506.23" stroke="#444" stroke-width="0.8"/>
<line x1="490.58" y1="502" x2="493.38" y2="502" stroke="#444" stroke-width="0.8"/>
<rect x="487.6" y="506.23" width="8.75" height="7.47" fill="#000"/>
<line x1="502.82" y1="503.75" x2="502.82" y2="506.94" stroke="#444" stroke-width="0.8"/>
<line x1="501.43" y1="503.75" x2="504.22" y2="503.75" stroke="#444" stroke-width="0.8"/>
<rect x="498.45" y="506.94" width="8.75" height="6.76" fill="#000"/>
<line x1="513.67" y1="509.25" x2="513.67" y2="511.89" stroke="#444" stroke-width="0.8"/>
<line x1="512.27" y1="509.25" x2="515.07" y2="509.25" stroke="#444" stroke-width="0.8"/>
<rect x="509.3" y="511.89" width="8.75" height="1.81" fill="#000"/>
<line x1="419.9" y1="513.3" x2="519" y2="513.3" stroke="#111" stroke-width="1"/>
<text x="482.5" y="483.32" font-size="9.4" text-anchor="middle" fill="#000" textLength="8.5" lengthAdjust="spacingAndGlyphs" style="stroke-width:0.05em">**</text>
<text x="493" y="500.82" font-size="9.4" text-anchor="middle" fill="#000" textLength="8.5" lengthAdjust="spacingAndGlyphs" style="stroke-width:0.05em">**</text>
<text x="503.75" y="503.32" font-size="9.4" text-anchor="middle" fill="#000" textLength="8.5" lengthAdjust="spacingAndGlyphs" style="stroke-width:0.05em">**</text>
<text x="514.25" y="509.07" font-size="9.4" text-anchor="middle" fill="#000" textLength="8.5" lengthAdjust="spacingAndGlyphs" style="stroke-width:0.05em">**</text>
<text x="450" y="427.36" font-size="8.7" textLength="50.5" lengthAdjust="spacingAndGlyphs">CAG-CXCR4</text>
<text x="427.5" y="528.25" font-size="8.8" text-anchor="middle">0</text>
<text x="437.5" y="528.25" font-size="8.8" text-anchor="middle">5</text>
<text x="448" y="528.25" font-size="8.8" text-anchor="middle">7</text>
<text x="458" y="528.25" font-size="8.8" text-anchor="middle">0</text>
<text x="468.75" y="528.25" font-size="8.8" text-anchor="middle">0</text>
<text x="480.5" y="528.25" font-size="8.8" text-anchor="middle">5</text>
<text x="490.75" y="528.25" font-size="8.8" text-anchor="middle">7</text>
<text x="503" y="528.25" font-size="8.8" text-anchor="middle">5</text>
<text x="513.25" y="528.25" font-size="8.8" text-anchor="middle">7</text>
<text x="427.5" y="542.15" font-size="8.8" text-anchor="middle">0</text>
<text x="437.5" y="542.15" font-size="8.8" text-anchor="middle">0</text>
<text x="448" y="542.15" font-size="8.8" text-anchor="middle">0</text>
<text x="458.75" y="542.15" font-size="8.8" text-anchor="middle" textLength="9.2" lengthAdjust="spacingAndGlyphs">10</text>
<text x="470.5" y="542.15" font-size="8.8" text-anchor="middle" textLength="9.2" lengthAdjust="spacingAndGlyphs">20</text>
<text x="481.25" y="542.15" font-size="8.8" text-anchor="middle" textLength="9.2" lengthAdjust="spacingAndGlyphs">10</text>
<text x="492.5" y="542.15" font-size="8.8" text-anchor="middle" textLength="9.2" lengthAdjust="spacingAndGlyphs">10</text>
<text x="504.5" y="542.15" font-size="8.8" text-anchor="middle" textLength="9.2" lengthAdjust="spacingAndGlyphs">20</text>
<text x="515" y="542.15" font-size="8.8" text-anchor="middle" textLength="9.2" lengthAdjust="spacingAndGlyphs">20</text>
<line x1="64.4" y1="576.5" x2="64.4" y2="660.9" stroke="#3a3a3a" stroke-width="0.9"/>
<line x1="62.6" y1="660.5" x2="64.4" y2="660.5" stroke="#3a3a3a" stroke-width="0.8"/>
<text x="60.5" y="665.16" font-size="9.1" text-anchor="end">0</text>
<line x1="62.6" y1="646.58" x2="64.4" y2="646.58" stroke="#3a3a3a" stroke-width="0.8"/>
<text x="60.5" y="651.23" font-size="9.1" text-anchor="end">1</text>
<line x1="62.6" y1="632.67" x2="64.4" y2="632.67" stroke="#3a3a3a" stroke-width="0.8"/>
<text x="60.5" y="637.3" font-size="9.1" text-anchor="end">2</text>
<line x1="62.6" y1="618.75" x2="64.4" y2="618.75" stroke="#3a3a3a" stroke-width="0.8"/>
<text x="60.5" y="623.37" font-size="9.1" text-anchor="end">3</text>
<line x1="62.6" y1="604.83" x2="64.4" y2="604.83" stroke="#3a3a3a" stroke-width="0.8"/>
<text x="60.5" y="609.44" font-size="9.1" text-anchor="end">4</text>
<line x1="62.6" y1="590.92" x2="64.4" y2="590.92" stroke="#3a3a3a" stroke-width="0.8"/>
<text x="60.5" y="595.51" font-size="9.1" text-anchor="end">5</text>
<line x1="62.6" y1="577" x2="64.4" y2="577" stroke="#3a3a3a" stroke-width="0.8"/>
<text x="60.5" y="581.58" font-size="9.1" text-anchor="end">6</text>
<line x1="74.38" y1="640.75" x2="74.38" y2="646.75" stroke="#444" stroke-width="0.8"/>
<line x1="72.58" y1="640.75" x2="76.17" y2="640.75" stroke="#444" stroke-width="0.8"/>
<rect x="66.25" y="646.75" width="16.25" height="14.05" fill="#000"/>
<line x1="95.25" y1="655" x2="95.25" y2="658" stroke="#444" stroke-width="0.8"/>
<line x1="93.45" y1="655" x2="97.05" y2="655" stroke="#444" stroke-width="0.8"/>
<rect x="86.75" y="658" width="17" height="2.8" fill="#000"/>
<line x1="116.25" y1="582.5" x2="116.25" y2="596.75" stroke="#444" stroke-width="0.8"/>
<line x1="114.45" y1="582.5" x2="118.05" y2="582.5" stroke="#444" stroke-width="0.8"/>
<rect x="108" y="596.75" width="16.5" height="64.05" fill="#000"/>
<line x1="64" y1="660.5" x2="126.3" y2="660.5" stroke="#111" stroke-width="1"/>
<text x="44.7" y="620.85" font-size="8.8" text-anchor="middle" textLength="71.5" lengthAdjust="spacingAndGlyphs" transform="rotate(-90 44.7 617.7)">SPHK1 mRNA (RQ)</text>
<path d="M73.5 631.5H94.5V639.8" fill="none" stroke="#555" stroke-width="0.9"/>
<path d="M92.5 621.5V583.5H110" fill="none" stroke="#555" stroke-width="0.9"/>
<text x="95.5" y="654.07" font-size="9.4" text-anchor="middle" fill="#000" textLength="8.5" lengthAdjust="spacingAndGlyphs" style="stroke-width:0.05em">**</text>
<text x="115.75" y="582.57" font-size="9.4" text-anchor="middle" fill="#000" textLength="8.5" lengthAdjust="spacingAndGlyphs" style="stroke-width:0.05em">**</text>
<text transform="translate(79.2 670.2) rotate(-34)" text-anchor="end" font-size="8.8" textLength="57.5" lengthAdjust="spacingAndGlyphs">RPMI8226-EV</text>
<text transform="translate(101 671.5) rotate(-34)" text-anchor="end" font-size="8.8" textLength="85" lengthAdjust="spacingAndGlyphs">RPMI8226-shCXCL12</text>
<text transform="translate(120.5 674) rotate(-34)" text-anchor="end" font-size="8.8" textLength="73.5" lengthAdjust="spacingAndGlyphs">RPMI8226-CXCR4</text>
<line x1="167.5" y1="576.1" x2="167.5" y2="664.9" stroke="#3a3a3a" stroke-width="0.9"/>
<line x1="165.7" y1="664.5" x2="167.5" y2="664.5" stroke="#3a3a3a" stroke-width="0.8"/>
<text x="164.8" y="668.56" font-size="9.1" text-anchor="end">0</text>
<line x1="165.7" y1="649.85" x2="167.5" y2="649.85" stroke="#3a3a3a" stroke-width="0.8"/>
<text x="164.8" y="653.86" font-size="9.1" text-anchor="end">2</text>
<line x1="165.7" y1="635.2" x2="167.5" y2="635.2" stroke="#3a3a3a" stroke-width="0.8"/>
<text x="164.8" y="639.16" font-size="9.1" text-anchor="end">4</text>
<line x1="165.7" y1="620.55" x2="167.5" y2="620.55" stroke="#3a3a3a" stroke-width="0.8"/>
<text x="164.8" y="624.46" font-size="9.1" text-anchor="end">6</text>
<line x1="165.7" y1="605.9" x2="167.5" y2="605.9" stroke="#3a3a3a" stroke-width="0.8"/>
<text x="164.8" y="609.76" font-size="9.1" text-anchor="end">8</text>
<line x1="165.7" y1="591.25" x2="167.5" y2="591.25" stroke="#3a3a3a" stroke-width="0.8"/>
<text x="164.8" y="595.06" font-size="9.1" text-anchor="end">10</text>
<line x1="165.7" y1="576.6" x2="167.5" y2="576.6" stroke="#3a3a3a" stroke-width="0.8"/>
<text x="164.8" y="580.36" font-size="9.1" text-anchor="end">12</text>
<line x1="178" y1="614.25" x2="178" y2="619.5" stroke="#444" stroke-width="0.8"/>
<line x1="176.2" y1="614.25" x2="179.8" y2="614.25" stroke="#444" stroke-width="0.8"/>
<rect x="169.25" y="619.5" width="17.5" height="45.3" fill="#000"/>
<line x1="200" y1="585.75" x2="200" y2="593.25" stroke="#444" stroke-width="0.8"/>
<line x1="198.2" y1="585.75" x2="201.8" y2="585.75" stroke="#444" stroke-width="0.8"/>
<rect x="191.25" y="593.25" width="17.5" height="71.55" fill="#000"/>
<line x1="167.1" y1="664.5" x2="210" y2="664.5" stroke="#111" stroke-width="1"/>
<text x="147.5" y="621.35" font-size="8.8" text-anchor="middle" textLength="70.5" lengthAdjust="spacingAndGlyphs" transform="rotate(-90 147.5 618.2)">SPHK1 mRNA (RQ)</text>
<path d="M176.5 603.75V585.5H195.5" fill="none" stroke="#555" stroke-width="0.9"/>
<text x="200.2" y="585.82" font-size="9.4" text-anchor="middle" fill="#000" textLength="8.5" lengthAdjust="spacingAndGlyphs" style="stroke-width:0.05em">**</text>
<text transform="translate(180.5 674) rotate(-34)" text-anchor="end" font-size="8.8" textLength="36" lengthAdjust="spacingAndGlyphs">CAG-EV</text>
<text transform="translate(204.8 676) rotate(-34)" text-anchor="end" font-size="8.8" textLength="54" lengthAdjust="spacingAndGlyphs">CAG-CXCR4</text>
<rect x="332.5" y="587.5" width="98" height="83.7" fill="none" stroke="#5a5a5a" stroke-width="1"/>
<text x="330" y="674.39" font-size="9.6" text-anchor="end">0</text>
<text x="330" y="660.51" font-size="9.6" text-anchor="end">100</text>
<text x="330" y="646.64" font-size="9.6" text-anchor="end">200</text>
<text x="330" y="632.76" font-size="9.6" text-anchor="end">300</text>
<text x="330" y="618.89" font-size="9.6" text-anchor="end">400</text>
<text x="330" y="605.01" font-size="9.6" text-anchor="end">500</text>
<text x="330" y="591.14" font-size="9.6" text-anchor="end">600</text>
<text x="332.2" y="681.44" font-size="9.6" text-anchor="middle">2</text>
<text x="357.5" y="681.44" font-size="9.6" text-anchor="middle">22</text>
<text x="381.25" y="681.44" font-size="9.6" text-anchor="middle">42</text>
<text x="405.5" y="681.44" font-size="9.6" text-anchor="middle">62</text>
<text x="430" y="681.44" font-size="9.6" text-anchor="middle">82</text>
<text x="305" y="633.75" font-size="8.8" text-anchor="middle" textLength="76.5" lengthAdjust="spacingAndGlyphs" transform="rotate(-90 305 630.6)">CXCL12 mRNA (RQ)</text>
<text x="343.75" y="695.65" font-size="8.8" textLength="72.5" lengthAdjust="spacingAndGlyphs">SPHK1 mRNA (RQ)</text>
<circle cx="333.25" cy="632.5" r="1.75" fill="#000"/>
<circle cx="338" cy="651.75" r="1.75" fill="#000"/>
<circle cx="332.8" cy="662.5" r="1.75" fill="#000"/>
<circle cx="335" cy="665" r="1.75" fill="#000"/>
<circle cx="339.5" cy="660" r="1.75" fill="#000"/>
<circle cx="342.5" cy="668.75" r="1.75" fill="#000"/>
<circle cx="348" cy="661.25" r="1.75" fill="#000"/>
<circle cx="363" cy="622.5" r="1.75" fill="#000"/>
<circle cx="363" cy="664.5" r="1.75" fill="#000"/>
<circle cx="385" cy="618.75" r="1.75" fill="#000"/>
<circle cx="333" cy="670.75" r="1.75" fill="#000"/>
<circle cx="398.25" cy="593.75" r="1.75" fill="#000"/>
<circle cx="398.25" cy="636.75" r="1.75" fill="#000"/>
<circle cx="411.75" cy="638" r="1.75" fill="#000"/>
<line x1="332.5" y1="658" x2="412.5" y2="617.5" stroke="#000" stroke-width="1.5"/>
</g>
</svg>
</body></html>
